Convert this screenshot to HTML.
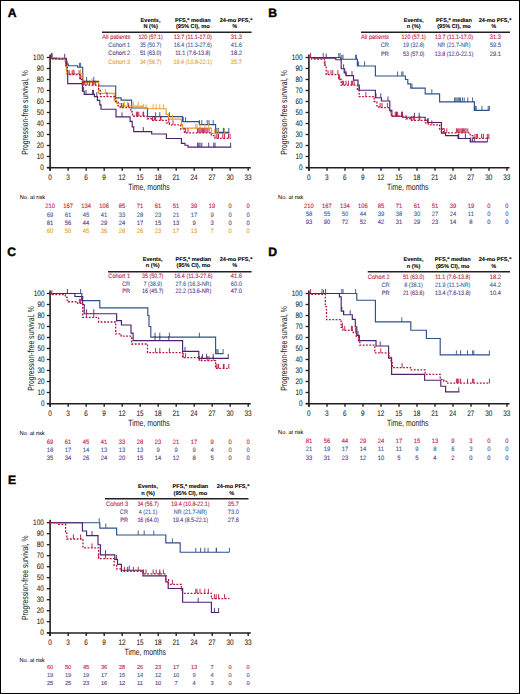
<!DOCTYPE html>
<html><head><meta charset="utf-8"><style>
html,body{margin:0;padding:0;background:#fff;}
body{width:520px;height:694px;overflow:hidden;}
svg{display:block;font-family:"Liberation Sans",sans-serif;text-rendering:geometricPrecision;}
</style></head><body>
<svg width="520" height="694" viewBox="0 0 520 694">
<rect x="0" y="0" width="520" height="694" fill="#fff"/>
<text x="7.70" y="17.15" font-size="12.2" fill="#000" stroke="#000" stroke-width="0.4" font-weight="bold" textLength="8.81" lengthAdjust="spacingAndGlyphs">A</text>
<text x="140.64" y="21.75" font-size="5.6" fill="#000" stroke="#000" stroke-width="0.08" font-weight="bold" textLength="19.92" lengthAdjust="spacingAndGlyphs">Events,</text>
<text x="143.45" y="28.25" font-size="5.6" fill="#000" stroke="#000" stroke-width="0.08" font-weight="bold" textLength="14.31" lengthAdjust="spacingAndGlyphs">N (%)</text>
<text x="174.91" y="21.75" font-size="5.6" fill="#000" stroke="#000" stroke-width="0.08" font-weight="bold" textLength="35.79" lengthAdjust="spacingAndGlyphs">PFS,* median</text>
<text x="176.00" y="28.25" font-size="5.6" fill="#000" stroke="#000" stroke-width="0.08" font-weight="bold" textLength="33.60" lengthAdjust="spacingAndGlyphs">(95% CI), mo</text>
<text x="219.66" y="21.75" font-size="5.6" fill="#000" stroke="#000" stroke-width="0.08" font-weight="bold" textLength="32.68" lengthAdjust="spacingAndGlyphs">24-mo PFS,*</text>
<text x="232.21" y="28.25" font-size="5.6" fill="#000" stroke="#000" stroke-width="0.08" font-weight="bold" textLength="4.98" lengthAdjust="spacingAndGlyphs">%</text>
<line x1="102.00" y1="32.30" x2="251.60" y2="32.30" stroke="#231f20" stroke-width="1.4"/>
<text x="102.26" y="38.90" font-size="6.3" fill="#c41f4b" stroke="#c41f4b" stroke-width="0.12" textLength="28.04" lengthAdjust="spacingAndGlyphs">All patients</text>
<text x="138.40" y="38.90" font-size="6.3" fill="#c41f4b" stroke="#c41f4b" stroke-width="0.12" textLength="24.41" lengthAdjust="spacingAndGlyphs">120 (57.1)</text>
<text x="173.73" y="38.90" font-size="6.3" fill="#c41f4b" stroke="#c41f4b" stroke-width="0.12" textLength="38.15" lengthAdjust="spacingAndGlyphs">13.7 (11.1-17.0)</text>
<text x="230.82" y="38.90" font-size="6.3" fill="#c41f4b" stroke="#c41f4b" stroke-width="0.12" textLength="11.16" lengthAdjust="spacingAndGlyphs">31.3</text>
<text x="108.31" y="47.10" font-size="6.3" fill="#44689f" stroke="#44689f" stroke-width="0.12" textLength="21.99" lengthAdjust="spacingAndGlyphs">Cohort 1</text>
<text x="139.88" y="47.10" font-size="6.3" fill="#44689f" stroke="#44689f" stroke-width="0.12" textLength="21.43" lengthAdjust="spacingAndGlyphs">35 (50.7)</text>
<text x="173.73" y="47.10" font-size="6.3" fill="#44689f" stroke="#44689f" stroke-width="0.12" textLength="38.15" lengthAdjust="spacingAndGlyphs">16.4 (11.3-27.6)</text>
<text x="230.82" y="47.10" font-size="6.3" fill="#44689f" stroke="#44689f" stroke-width="0.12" textLength="11.16" lengthAdjust="spacingAndGlyphs">41.6</text>
<text x="108.31" y="55.30" font-size="6.3" fill="#63408a" stroke="#63408a" stroke-width="0.12" textLength="21.99" lengthAdjust="spacingAndGlyphs">Cohort 2</text>
<text x="139.88" y="55.30" font-size="6.3" fill="#63408a" stroke="#63408a" stroke-width="0.12" textLength="21.43" lengthAdjust="spacingAndGlyphs">51 (63.0)</text>
<text x="175.23" y="55.30" font-size="6.3" fill="#63408a" stroke="#63408a" stroke-width="0.12" textLength="35.13" lengthAdjust="spacingAndGlyphs">11.1 (7.6-13.8)</text>
<text x="230.82" y="55.30" font-size="6.3" fill="#63408a" stroke="#63408a" stroke-width="0.12" textLength="11.16" lengthAdjust="spacingAndGlyphs">18.2</text>
<text x="108.31" y="63.50" font-size="6.3" fill="#e9a23a" stroke="#e9a23a" stroke-width="0.12" textLength="21.99" lengthAdjust="spacingAndGlyphs">Cohort 3</text>
<text x="139.88" y="63.50" font-size="6.3" fill="#e9a23a" stroke="#e9a23a" stroke-width="0.12" textLength="21.43" lengthAdjust="spacingAndGlyphs">34 (56.7)</text>
<text x="173.53" y="63.50" font-size="6.3" fill="#e9a23a" stroke="#e9a23a" stroke-width="0.12" textLength="38.55" lengthAdjust="spacingAndGlyphs">19.4 (10.8-22.1)</text>
<text x="230.82" y="63.50" font-size="6.3" fill="#e9a23a" stroke="#e9a23a" stroke-width="0.12" textLength="11.16" lengthAdjust="spacingAndGlyphs">35.7</text>
<line x1="50.10" y1="170.70" x2="50.10" y2="54.50" stroke="#231f20" stroke-width="1.6"/>
<line x1="47.00" y1="167.75" x2="250.80" y2="167.75" stroke="#231f20" stroke-width="1.6"/>
<line x1="46.80" y1="167.50" x2="50.00" y2="167.50" stroke="#231f20" stroke-width="1.3"/>
<text x="40.24" y="169.75" font-size="8.0" fill="#231f20" stroke="#231f20" stroke-width="0.08" textLength="3.56" lengthAdjust="spacingAndGlyphs">0</text>
<line x1="46.80" y1="156.50" x2="50.00" y2="156.50" stroke="#231f20" stroke-width="1.3"/>
<text x="36.68" y="158.75" font-size="8.0" fill="#231f20" stroke="#231f20" stroke-width="0.08" textLength="7.12" lengthAdjust="spacingAndGlyphs">10</text>
<line x1="46.80" y1="145.50" x2="50.00" y2="145.50" stroke="#231f20" stroke-width="1.3"/>
<text x="36.68" y="147.75" font-size="8.0" fill="#231f20" stroke="#231f20" stroke-width="0.08" textLength="7.12" lengthAdjust="spacingAndGlyphs">20</text>
<line x1="46.80" y1="134.50" x2="50.00" y2="134.50" stroke="#231f20" stroke-width="1.3"/>
<text x="36.68" y="136.75" font-size="8.0" fill="#231f20" stroke="#231f20" stroke-width="0.08" textLength="7.12" lengthAdjust="spacingAndGlyphs">30</text>
<line x1="46.80" y1="123.50" x2="50.00" y2="123.50" stroke="#231f20" stroke-width="1.3"/>
<text x="36.68" y="125.75" font-size="8.0" fill="#231f20" stroke="#231f20" stroke-width="0.08" textLength="7.12" lengthAdjust="spacingAndGlyphs">40</text>
<line x1="46.80" y1="112.50" x2="50.00" y2="112.50" stroke="#231f20" stroke-width="1.3"/>
<text x="36.68" y="114.75" font-size="8.0" fill="#231f20" stroke="#231f20" stroke-width="0.08" textLength="7.12" lengthAdjust="spacingAndGlyphs">50</text>
<line x1="46.80" y1="101.50" x2="50.00" y2="101.50" stroke="#231f20" stroke-width="1.3"/>
<text x="36.68" y="103.75" font-size="8.0" fill="#231f20" stroke="#231f20" stroke-width="0.08" textLength="7.12" lengthAdjust="spacingAndGlyphs">60</text>
<line x1="46.80" y1="90.50" x2="50.00" y2="90.50" stroke="#231f20" stroke-width="1.3"/>
<text x="36.68" y="92.75" font-size="8.0" fill="#231f20" stroke="#231f20" stroke-width="0.08" textLength="7.12" lengthAdjust="spacingAndGlyphs">70</text>
<line x1="46.80" y1="79.50" x2="50.00" y2="79.50" stroke="#231f20" stroke-width="1.3"/>
<text x="36.68" y="81.75" font-size="8.0" fill="#231f20" stroke="#231f20" stroke-width="0.08" textLength="7.12" lengthAdjust="spacingAndGlyphs">80</text>
<line x1="46.80" y1="68.50" x2="50.00" y2="68.50" stroke="#231f20" stroke-width="1.3"/>
<text x="36.68" y="70.75" font-size="8.0" fill="#231f20" stroke="#231f20" stroke-width="0.08" textLength="7.12" lengthAdjust="spacingAndGlyphs">90</text>
<line x1="46.80" y1="57.50" x2="50.00" y2="57.50" stroke="#231f20" stroke-width="1.3"/>
<text x="33.12" y="59.75" font-size="8.0" fill="#231f20" stroke="#231f20" stroke-width="0.08" textLength="10.68" lengthAdjust="spacingAndGlyphs">100</text>
<line x1="50.20" y1="167.50" x2="50.20" y2="170.80" stroke="#231f20" stroke-width="1.4"/>
<text x="48.22" y="179.70" font-size="8.0" fill="#231f20" stroke="#231f20" stroke-width="0.08" textLength="3.56" lengthAdjust="spacingAndGlyphs">0</text>
<line x1="68.20" y1="167.50" x2="68.20" y2="170.80" stroke="#231f20" stroke-width="1.4"/>
<text x="66.22" y="179.70" font-size="8.0" fill="#231f20" stroke="#231f20" stroke-width="0.08" textLength="3.56" lengthAdjust="spacingAndGlyphs">3</text>
<line x1="86.20" y1="167.50" x2="86.20" y2="170.80" stroke="#231f20" stroke-width="1.4"/>
<text x="84.22" y="179.70" font-size="8.0" fill="#231f20" stroke="#231f20" stroke-width="0.08" textLength="3.56" lengthAdjust="spacingAndGlyphs">6</text>
<line x1="104.20" y1="167.50" x2="104.20" y2="170.80" stroke="#231f20" stroke-width="1.4"/>
<text x="102.22" y="179.70" font-size="8.0" fill="#231f20" stroke="#231f20" stroke-width="0.08" textLength="3.56" lengthAdjust="spacingAndGlyphs">9</text>
<line x1="122.20" y1="167.50" x2="122.20" y2="170.80" stroke="#231f20" stroke-width="1.4"/>
<text x="118.44" y="179.70" font-size="8.0" fill="#231f20" stroke="#231f20" stroke-width="0.08" textLength="7.12" lengthAdjust="spacingAndGlyphs">12</text>
<line x1="140.20" y1="167.50" x2="140.20" y2="170.80" stroke="#231f20" stroke-width="1.4"/>
<text x="136.44" y="179.70" font-size="8.0" fill="#231f20" stroke="#231f20" stroke-width="0.08" textLength="7.12" lengthAdjust="spacingAndGlyphs">15</text>
<line x1="158.20" y1="167.50" x2="158.20" y2="170.80" stroke="#231f20" stroke-width="1.4"/>
<text x="154.44" y="179.70" font-size="8.0" fill="#231f20" stroke="#231f20" stroke-width="0.08" textLength="7.12" lengthAdjust="spacingAndGlyphs">18</text>
<line x1="176.20" y1="167.50" x2="176.20" y2="170.80" stroke="#231f20" stroke-width="1.4"/>
<text x="172.44" y="179.70" font-size="8.0" fill="#231f20" stroke="#231f20" stroke-width="0.08" textLength="7.12" lengthAdjust="spacingAndGlyphs">21</text>
<line x1="194.20" y1="167.50" x2="194.20" y2="170.80" stroke="#231f20" stroke-width="1.4"/>
<text x="190.44" y="179.70" font-size="8.0" fill="#231f20" stroke="#231f20" stroke-width="0.08" textLength="7.12" lengthAdjust="spacingAndGlyphs">24</text>
<line x1="212.20" y1="167.50" x2="212.20" y2="170.80" stroke="#231f20" stroke-width="1.4"/>
<text x="208.44" y="179.70" font-size="8.0" fill="#231f20" stroke="#231f20" stroke-width="0.08" textLength="7.12" lengthAdjust="spacingAndGlyphs">27</text>
<line x1="230.20" y1="167.50" x2="230.20" y2="170.80" stroke="#231f20" stroke-width="1.4"/>
<text x="226.44" y="179.70" font-size="8.0" fill="#231f20" stroke="#231f20" stroke-width="0.08" textLength="7.12" lengthAdjust="spacingAndGlyphs">30</text>
<line x1="248.20" y1="167.50" x2="248.20" y2="170.80" stroke="#231f20" stroke-width="1.4"/>
<text x="244.44" y="179.70" font-size="8.0" fill="#231f20" stroke="#231f20" stroke-width="0.08" textLength="7.12" lengthAdjust="spacingAndGlyphs">33</text>
<text x="128.25" y="189.70" font-size="9.0" fill="#231f20" stroke="#231f20" stroke-width="0.04" textLength="41.50" lengthAdjust="spacingAndGlyphs">Time, months</text>
<g transform="translate(28.20,112.50) rotate(-90)">
<text x="-42.25" y="0.00" font-size="9.0" fill="#231f20" stroke="#231f20" stroke-width="0.04" textLength="84.50" lengthAdjust="spacingAndGlyphs">Progression-free survival, %</text>
</g>
<text x="19.75" y="198.90" font-size="5.7" fill="#000" stroke="#000" stroke-width="0.03" textLength="25.30" lengthAdjust="spacingAndGlyphs">No. at risk</text>
<text x="45.21" y="207.50" font-size="6.3" fill="#c41f4b" stroke="#c41f4b" stroke-width="0.12" textLength="9.77" lengthAdjust="spacingAndGlyphs">210</text>
<text x="63.21" y="207.50" font-size="6.3" fill="#c41f4b" stroke="#c41f4b" stroke-width="0.12" textLength="9.77" lengthAdjust="spacingAndGlyphs">167</text>
<text x="81.21" y="207.50" font-size="6.3" fill="#c41f4b" stroke="#c41f4b" stroke-width="0.12" textLength="9.77" lengthAdjust="spacingAndGlyphs">134</text>
<text x="99.21" y="207.50" font-size="6.3" fill="#c41f4b" stroke="#c41f4b" stroke-width="0.12" textLength="9.77" lengthAdjust="spacingAndGlyphs">106</text>
<text x="118.84" y="207.50" font-size="6.3" fill="#c41f4b" stroke="#c41f4b" stroke-width="0.12" textLength="6.52" lengthAdjust="spacingAndGlyphs">85</text>
<text x="136.84" y="207.50" font-size="6.3" fill="#c41f4b" stroke="#c41f4b" stroke-width="0.12" textLength="6.52" lengthAdjust="spacingAndGlyphs">71</text>
<text x="154.84" y="207.50" font-size="6.3" fill="#c41f4b" stroke="#c41f4b" stroke-width="0.12" textLength="6.52" lengthAdjust="spacingAndGlyphs">61</text>
<text x="172.84" y="207.50" font-size="6.3" fill="#c41f4b" stroke="#c41f4b" stroke-width="0.12" textLength="6.52" lengthAdjust="spacingAndGlyphs">51</text>
<text x="190.84" y="207.50" font-size="6.3" fill="#c41f4b" stroke="#c41f4b" stroke-width="0.12" textLength="6.52" lengthAdjust="spacingAndGlyphs">39</text>
<text x="208.84" y="207.50" font-size="6.3" fill="#c41f4b" stroke="#c41f4b" stroke-width="0.12" textLength="6.52" lengthAdjust="spacingAndGlyphs">19</text>
<text x="228.47" y="207.50" font-size="6.3" fill="#c41f4b" stroke="#c41f4b" stroke-width="0.12" textLength="3.26" lengthAdjust="spacingAndGlyphs">0</text>
<text x="246.47" y="207.50" font-size="6.3" fill="#c41f4b" stroke="#c41f4b" stroke-width="0.12" textLength="3.26" lengthAdjust="spacingAndGlyphs">0</text>
<text x="46.84" y="216.60" font-size="6.3" fill="#44689f" stroke="#44689f" stroke-width="0.12" textLength="6.52" lengthAdjust="spacingAndGlyphs">69</text>
<text x="64.84" y="216.60" font-size="6.3" fill="#44689f" stroke="#44689f" stroke-width="0.12" textLength="6.52" lengthAdjust="spacingAndGlyphs">61</text>
<text x="82.84" y="216.60" font-size="6.3" fill="#44689f" stroke="#44689f" stroke-width="0.12" textLength="6.52" lengthAdjust="spacingAndGlyphs">45</text>
<text x="100.84" y="216.60" font-size="6.3" fill="#44689f" stroke="#44689f" stroke-width="0.12" textLength="6.52" lengthAdjust="spacingAndGlyphs">41</text>
<text x="118.84" y="216.60" font-size="6.3" fill="#44689f" stroke="#44689f" stroke-width="0.12" textLength="6.52" lengthAdjust="spacingAndGlyphs">33</text>
<text x="136.84" y="216.60" font-size="6.3" fill="#44689f" stroke="#44689f" stroke-width="0.12" textLength="6.52" lengthAdjust="spacingAndGlyphs">28</text>
<text x="154.84" y="216.60" font-size="6.3" fill="#44689f" stroke="#44689f" stroke-width="0.12" textLength="6.52" lengthAdjust="spacingAndGlyphs">23</text>
<text x="172.84" y="216.60" font-size="6.3" fill="#44689f" stroke="#44689f" stroke-width="0.12" textLength="6.52" lengthAdjust="spacingAndGlyphs">21</text>
<text x="190.84" y="216.60" font-size="6.3" fill="#44689f" stroke="#44689f" stroke-width="0.12" textLength="6.52" lengthAdjust="spacingAndGlyphs">17</text>
<text x="210.47" y="216.60" font-size="6.3" fill="#44689f" stroke="#44689f" stroke-width="0.12" textLength="3.26" lengthAdjust="spacingAndGlyphs">9</text>
<text x="228.47" y="216.60" font-size="6.3" fill="#44689f" stroke="#44689f" stroke-width="0.12" textLength="3.26" lengthAdjust="spacingAndGlyphs">0</text>
<text x="246.47" y="216.60" font-size="6.3" fill="#44689f" stroke="#44689f" stroke-width="0.12" textLength="3.26" lengthAdjust="spacingAndGlyphs">0</text>
<text x="46.84" y="224.50" font-size="6.3" fill="#63408a" stroke="#63408a" stroke-width="0.12" textLength="6.52" lengthAdjust="spacingAndGlyphs">81</text>
<text x="64.84" y="224.50" font-size="6.3" fill="#63408a" stroke="#63408a" stroke-width="0.12" textLength="6.52" lengthAdjust="spacingAndGlyphs">56</text>
<text x="82.84" y="224.50" font-size="6.3" fill="#63408a" stroke="#63408a" stroke-width="0.12" textLength="6.52" lengthAdjust="spacingAndGlyphs">44</text>
<text x="100.84" y="224.50" font-size="6.3" fill="#63408a" stroke="#63408a" stroke-width="0.12" textLength="6.52" lengthAdjust="spacingAndGlyphs">29</text>
<text x="118.84" y="224.50" font-size="6.3" fill="#63408a" stroke="#63408a" stroke-width="0.12" textLength="6.52" lengthAdjust="spacingAndGlyphs">24</text>
<text x="136.84" y="224.50" font-size="6.3" fill="#63408a" stroke="#63408a" stroke-width="0.12" textLength="6.52" lengthAdjust="spacingAndGlyphs">17</text>
<text x="154.84" y="224.50" font-size="6.3" fill="#63408a" stroke="#63408a" stroke-width="0.12" textLength="6.52" lengthAdjust="spacingAndGlyphs">15</text>
<text x="172.84" y="224.50" font-size="6.3" fill="#63408a" stroke="#63408a" stroke-width="0.12" textLength="6.52" lengthAdjust="spacingAndGlyphs">13</text>
<text x="192.47" y="224.50" font-size="6.3" fill="#63408a" stroke="#63408a" stroke-width="0.12" textLength="3.26" lengthAdjust="spacingAndGlyphs">9</text>
<text x="210.47" y="224.50" font-size="6.3" fill="#63408a" stroke="#63408a" stroke-width="0.12" textLength="3.26" lengthAdjust="spacingAndGlyphs">3</text>
<text x="228.47" y="224.50" font-size="6.3" fill="#63408a" stroke="#63408a" stroke-width="0.12" textLength="3.26" lengthAdjust="spacingAndGlyphs">0</text>
<text x="246.47" y="224.50" font-size="6.3" fill="#63408a" stroke="#63408a" stroke-width="0.12" textLength="3.26" lengthAdjust="spacingAndGlyphs">0</text>
<text x="46.84" y="232.90" font-size="6.3" fill="#e9a23a" stroke="#e9a23a" stroke-width="0.12" textLength="6.52" lengthAdjust="spacingAndGlyphs">60</text>
<text x="64.84" y="232.90" font-size="6.3" fill="#e9a23a" stroke="#e9a23a" stroke-width="0.12" textLength="6.52" lengthAdjust="spacingAndGlyphs">50</text>
<text x="82.84" y="232.90" font-size="6.3" fill="#e9a23a" stroke="#e9a23a" stroke-width="0.12" textLength="6.52" lengthAdjust="spacingAndGlyphs">45</text>
<text x="100.84" y="232.90" font-size="6.3" fill="#e9a23a" stroke="#e9a23a" stroke-width="0.12" textLength="6.52" lengthAdjust="spacingAndGlyphs">36</text>
<text x="118.84" y="232.90" font-size="6.3" fill="#e9a23a" stroke="#e9a23a" stroke-width="0.12" textLength="6.52" lengthAdjust="spacingAndGlyphs">28</text>
<text x="136.84" y="232.90" font-size="6.3" fill="#e9a23a" stroke="#e9a23a" stroke-width="0.12" textLength="6.52" lengthAdjust="spacingAndGlyphs">26</text>
<text x="154.84" y="232.90" font-size="6.3" fill="#e9a23a" stroke="#e9a23a" stroke-width="0.12" textLength="6.52" lengthAdjust="spacingAndGlyphs">23</text>
<text x="172.84" y="232.90" font-size="6.3" fill="#e9a23a" stroke="#e9a23a" stroke-width="0.12" textLength="6.52" lengthAdjust="spacingAndGlyphs">17</text>
<text x="190.84" y="232.90" font-size="6.3" fill="#e9a23a" stroke="#e9a23a" stroke-width="0.12" textLength="6.52" lengthAdjust="spacingAndGlyphs">13</text>
<text x="210.47" y="232.90" font-size="6.3" fill="#e9a23a" stroke="#e9a23a" stroke-width="0.12" textLength="3.26" lengthAdjust="spacingAndGlyphs">7</text>
<text x="228.47" y="232.90" font-size="6.3" fill="#e9a23a" stroke="#e9a23a" stroke-width="0.12" textLength="3.26" lengthAdjust="spacingAndGlyphs">0</text>
<text x="246.47" y="232.90" font-size="6.3" fill="#e9a23a" stroke="#e9a23a" stroke-width="0.12" textLength="3.26" lengthAdjust="spacingAndGlyphs">0</text>
<path d="M50.00,57.50H53.00V58.27H66.50V70.70H67.70V83.57H82.40V91.27H84.20V94.35H94.40V96.55H97.40V100.40H99.80V104.80H101.00V109.20H116.00V116.90H130.10V121.30H132.20V126.80H133.70V131.64H151.70V133.95H166.40V138.46H181.40V143.30H185.00V145.28H188.00V147.15H231.20" fill="none" stroke="#4c2270" stroke-width="1.15"/>
<path d="M51.80,57.50v-4.5M64.70,58.27v-4.5M83.60,91.27v-4.5M86.00,94.35v-4.5M92.60,94.35v-4.5M93.50,94.35v-4.5M96.80,96.55v-4.5M122.00,116.90v-4.5M143.30,131.64v-4.5M197.60,147.15v-4.5M198.80,147.15v-4.5M200.00,147.15v-4.5M201.80,147.15v-4.5M208.70,147.15v-4.5M213.80,147.15v-4.5M215.00,147.15v-4.5M230.60,147.15v-4.5" fill="none" stroke="#4c2270" stroke-width="0.9"/>
<path d="M50.00,57.50H51.80V58.71H65.30V61.35H67.10V64.10H68.30V65.75H77.60V67.29H82.70V81.37H98.60V85.99H115.70V97.87H121.10V100.18H131.60V107.99H147.50V116.68H182.60V121.63H199.40V124.60H215.60V132.41H229.40" fill="none" stroke="#2f5189" stroke-width="1.15"/>
<path d="M51.80,58.71v-4.5M79.40,67.29v-4.5M80.60,67.29v-4.5M86.60,81.37v-4.5M93.80,81.37v-4.5M155.60,116.68v-4.5M159.80,116.68v-4.5M169.40,116.68v-4.5M183.20,121.63v-4.5M185.60,121.63v-4.5M199.40,124.60v-4.5M201.80,124.60v-4.5M207.20,124.60v-4.5M209.00,124.60v-4.5M213.20,124.60v-4.5M216.20,132.41v-4.5M218.00,132.41v-4.5M218.60,132.41v-4.5M223.40,132.41v-4.5M224.00,132.41v-4.5M228.80,132.41v-4.5" fill="none" stroke="#2f5189" stroke-width="0.9"/>
<path d="M50.00,57.50H57.80V59.26H65.60V66.30H66.80V73.78H83.00V82.69H98.60V93.36H114.20V100.40H116.60V103.70H121.40V106.12H143.00V108.76H166.10V114.37H168.50V119.10H181.40V124.60H182.60V128.12H211.40V133.51H229.40" fill="none" stroke="#eb9e27" stroke-width="1.15"/>
<path d="M73.40,73.78v-4.5M80.60,73.78v-4.5M92.00,82.69v-4.5M98.60,93.36v-4.5M105.50,93.36v-4.5M124.40,106.12v-4.5M127.40,106.12v-4.5M133.40,106.12v-4.5M138.20,106.12v-4.5M143.60,108.76v-4.5M146.00,108.76v-4.5M153.20,108.76v-4.5M156.20,108.76v-4.5M159.80,108.76v-4.5M163.40,108.76v-4.5M172.40,119.10v-4.5M195.80,128.12v-4.5M197.00,128.12v-4.5M200.00,128.12v-4.5M204.80,128.12v-4.5M208.40,128.12v-4.5M214.40,133.51v-4.5M216.20,133.51v-4.5M218.60,133.51v-4.5M224.60,133.51v-4.5" fill="none" stroke="#eb9e27" stroke-width="0.9"/>
<path d="M50.00,57.50H53.00V59.04H65.60V65.20H67.40V74.66H80.00V79.50H82.40V85.22H98.60V90.50H100.40V96.55H115.40V101.50H118.10V105.90H120.20V107.55H130.70V111.95H132.50V116.24H147.20V118.77H151.40V120.42H166.40V122.95H169.40V124.82H180.80V129.00H184.40V132.85H211.40V135.60H215.00V138.35H230.60" fill="none" stroke="#b8113c" stroke-width="1.3" stroke-dasharray="1.8 1.5"/>
<path d="M51.80,57.50v-4.5M66.20,65.20v-4.5M69.20,74.66v-4.5M72.20,74.66v-4.5M74.00,74.66v-4.5M79.10,74.66v-4.5M80.00,79.50v-4.5M80.90,79.50v-4.5M83.60,85.22v-4.5M84.80,85.22v-4.5M87.20,85.22v-4.5M89.60,85.22v-4.5M92.60,85.22v-4.5M93.80,85.22v-4.5M95.30,85.22v-4.5M107.00,96.55v-4.5M121.40,107.55v-4.5M123.20,107.55v-4.5M128.60,107.55v-4.5M136.40,116.24v-4.5M137.60,116.24v-4.5M138.80,116.24v-4.5M143.00,116.24v-4.5M143.60,116.24v-4.5M152.60,120.42v-4.5M154.40,120.42v-4.5M155.60,120.42v-4.5M160.40,120.42v-4.5M161.00,120.42v-4.5M168.80,122.95v-4.5M173.00,124.82v-4.5M185.60,132.85v-4.5M188.00,132.85v-4.5M197.60,132.85v-4.5M198.80,132.85v-4.5M200.00,132.85v-4.5M201.20,132.85v-4.5M202.40,132.85v-4.5M203.60,132.85v-4.5M204.80,132.85v-4.5M206.00,132.85v-4.5M207.20,132.85v-4.5M209.00,132.85v-4.5M216.20,138.35v-4.5M218.00,138.35v-4.5M218.60,138.35v-4.5M222.80,138.35v-4.5M224.60,138.35v-4.5M228.50,138.35v-4.5M230.00,138.35v-4.5" fill="none" stroke="#b8113c" stroke-width="0.9"/>
<text x="268.20" y="17.15" font-size="12.2" fill="#000" stroke="#000" stroke-width="0.4" font-weight="bold" textLength="8.81" lengthAdjust="spacingAndGlyphs">B</text>
<text x="403.74" y="21.75" font-size="5.6" fill="#000" stroke="#000" stroke-width="0.08" font-weight="bold" textLength="19.92" lengthAdjust="spacingAndGlyphs">Events,</text>
<text x="406.86" y="28.25" font-size="5.6" fill="#000" stroke="#000" stroke-width="0.08" font-weight="bold" textLength="13.69" lengthAdjust="spacingAndGlyphs">n (%)</text>
<text x="436.11" y="21.75" font-size="5.6" fill="#000" stroke="#000" stroke-width="0.08" font-weight="bold" textLength="35.79" lengthAdjust="spacingAndGlyphs">PFS,* median</text>
<text x="437.20" y="28.25" font-size="5.6" fill="#000" stroke="#000" stroke-width="0.08" font-weight="bold" textLength="33.60" lengthAdjust="spacingAndGlyphs">(95% CI), mo</text>
<text x="478.66" y="21.75" font-size="5.6" fill="#000" stroke="#000" stroke-width="0.08" font-weight="bold" textLength="32.68" lengthAdjust="spacingAndGlyphs">24-mo PFS,*</text>
<text x="491.21" y="28.25" font-size="5.6" fill="#000" stroke="#000" stroke-width="0.08" font-weight="bold" textLength="4.98" lengthAdjust="spacingAndGlyphs">%</text>
<line x1="361.00" y1="32.30" x2="510.00" y2="32.30" stroke="#231f20" stroke-width="1.4"/>
<text x="360.96" y="38.90" font-size="6.3" fill="#c41f4b" stroke="#c41f4b" stroke-width="0.12" textLength="28.04" lengthAdjust="spacingAndGlyphs">All patients</text>
<text x="401.50" y="38.90" font-size="6.3" fill="#c41f4b" stroke="#c41f4b" stroke-width="0.12" textLength="24.41" lengthAdjust="spacingAndGlyphs">120 (57.1)</text>
<text x="434.93" y="38.90" font-size="6.3" fill="#c41f4b" stroke="#c41f4b" stroke-width="0.12" textLength="38.15" lengthAdjust="spacingAndGlyphs">13.7 (11.1-17.0)</text>
<text x="489.82" y="38.90" font-size="6.3" fill="#c41f4b" stroke="#c41f4b" stroke-width="0.12" textLength="11.16" lengthAdjust="spacingAndGlyphs">31.3</text>
<text x="380.72" y="47.30" font-size="6.3" fill="#44689f" stroke="#44689f" stroke-width="0.12" textLength="8.28" lengthAdjust="spacingAndGlyphs">CR</text>
<text x="402.98" y="47.30" font-size="6.3" fill="#44689f" stroke="#44689f" stroke-width="0.12" textLength="21.43" lengthAdjust="spacingAndGlyphs">19 (32.8)</text>
<text x="437.44" y="47.30" font-size="6.3" fill="#44689f" stroke="#44689f" stroke-width="0.12" textLength="33.11" lengthAdjust="spacingAndGlyphs">NR (21.7-NR)</text>
<text x="489.82" y="47.30" font-size="6.3" fill="#44689f" stroke="#44689f" stroke-width="0.12" textLength="11.16" lengthAdjust="spacingAndGlyphs">59.5</text>
<text x="381.04" y="55.60" font-size="6.3" fill="#63408a" stroke="#63408a" stroke-width="0.12" textLength="7.96" lengthAdjust="spacingAndGlyphs">PR</text>
<text x="402.98" y="55.60" font-size="6.3" fill="#63408a" stroke="#63408a" stroke-width="0.12" textLength="21.43" lengthAdjust="spacingAndGlyphs">53 (57.0)</text>
<text x="434.73" y="55.60" font-size="6.3" fill="#63408a" stroke="#63408a" stroke-width="0.12" textLength="38.55" lengthAdjust="spacingAndGlyphs">13.8 (12.0-22.1)</text>
<text x="489.82" y="55.60" font-size="6.3" fill="#63408a" stroke="#63408a" stroke-width="0.12" textLength="11.16" lengthAdjust="spacingAndGlyphs">29.1</text>
<line x1="308.90" y1="170.70" x2="308.90" y2="54.50" stroke="#231f20" stroke-width="1.6"/>
<line x1="305.80" y1="167.75" x2="509.60" y2="167.75" stroke="#231f20" stroke-width="1.6"/>
<line x1="305.60" y1="167.50" x2="308.80" y2="167.50" stroke="#231f20" stroke-width="1.3"/>
<text x="298.94" y="169.75" font-size="8.0" fill="#231f20" stroke="#231f20" stroke-width="0.08" textLength="3.56" lengthAdjust="spacingAndGlyphs">0</text>
<line x1="305.60" y1="156.50" x2="308.80" y2="156.50" stroke="#231f20" stroke-width="1.3"/>
<text x="295.38" y="158.75" font-size="8.0" fill="#231f20" stroke="#231f20" stroke-width="0.08" textLength="7.12" lengthAdjust="spacingAndGlyphs">10</text>
<line x1="305.60" y1="145.50" x2="308.80" y2="145.50" stroke="#231f20" stroke-width="1.3"/>
<text x="295.38" y="147.75" font-size="8.0" fill="#231f20" stroke="#231f20" stroke-width="0.08" textLength="7.12" lengthAdjust="spacingAndGlyphs">20</text>
<line x1="305.60" y1="134.50" x2="308.80" y2="134.50" stroke="#231f20" stroke-width="1.3"/>
<text x="295.38" y="136.75" font-size="8.0" fill="#231f20" stroke="#231f20" stroke-width="0.08" textLength="7.12" lengthAdjust="spacingAndGlyphs">30</text>
<line x1="305.60" y1="123.50" x2="308.80" y2="123.50" stroke="#231f20" stroke-width="1.3"/>
<text x="295.38" y="125.75" font-size="8.0" fill="#231f20" stroke="#231f20" stroke-width="0.08" textLength="7.12" lengthAdjust="spacingAndGlyphs">40</text>
<line x1="305.60" y1="112.50" x2="308.80" y2="112.50" stroke="#231f20" stroke-width="1.3"/>
<text x="295.38" y="114.75" font-size="8.0" fill="#231f20" stroke="#231f20" stroke-width="0.08" textLength="7.12" lengthAdjust="spacingAndGlyphs">50</text>
<line x1="305.60" y1="101.50" x2="308.80" y2="101.50" stroke="#231f20" stroke-width="1.3"/>
<text x="295.38" y="103.75" font-size="8.0" fill="#231f20" stroke="#231f20" stroke-width="0.08" textLength="7.12" lengthAdjust="spacingAndGlyphs">60</text>
<line x1="305.60" y1="90.50" x2="308.80" y2="90.50" stroke="#231f20" stroke-width="1.3"/>
<text x="295.38" y="92.75" font-size="8.0" fill="#231f20" stroke="#231f20" stroke-width="0.08" textLength="7.12" lengthAdjust="spacingAndGlyphs">70</text>
<line x1="305.60" y1="79.50" x2="308.80" y2="79.50" stroke="#231f20" stroke-width="1.3"/>
<text x="295.38" y="81.75" font-size="8.0" fill="#231f20" stroke="#231f20" stroke-width="0.08" textLength="7.12" lengthAdjust="spacingAndGlyphs">80</text>
<line x1="305.60" y1="68.50" x2="308.80" y2="68.50" stroke="#231f20" stroke-width="1.3"/>
<text x="295.38" y="70.75" font-size="8.0" fill="#231f20" stroke="#231f20" stroke-width="0.08" textLength="7.12" lengthAdjust="spacingAndGlyphs">90</text>
<line x1="305.60" y1="57.50" x2="308.80" y2="57.50" stroke="#231f20" stroke-width="1.3"/>
<text x="291.82" y="59.75" font-size="8.0" fill="#231f20" stroke="#231f20" stroke-width="0.08" textLength="10.68" lengthAdjust="spacingAndGlyphs">100</text>
<line x1="309.00" y1="167.50" x2="309.00" y2="170.80" stroke="#231f20" stroke-width="1.4"/>
<text x="307.02" y="179.70" font-size="8.0" fill="#231f20" stroke="#231f20" stroke-width="0.08" textLength="3.56" lengthAdjust="spacingAndGlyphs">0</text>
<line x1="327.00" y1="167.50" x2="327.00" y2="170.80" stroke="#231f20" stroke-width="1.4"/>
<text x="325.02" y="179.70" font-size="8.0" fill="#231f20" stroke="#231f20" stroke-width="0.08" textLength="3.56" lengthAdjust="spacingAndGlyphs">3</text>
<line x1="345.00" y1="167.50" x2="345.00" y2="170.80" stroke="#231f20" stroke-width="1.4"/>
<text x="343.02" y="179.70" font-size="8.0" fill="#231f20" stroke="#231f20" stroke-width="0.08" textLength="3.56" lengthAdjust="spacingAndGlyphs">6</text>
<line x1="363.00" y1="167.50" x2="363.00" y2="170.80" stroke="#231f20" stroke-width="1.4"/>
<text x="361.02" y="179.70" font-size="8.0" fill="#231f20" stroke="#231f20" stroke-width="0.08" textLength="3.56" lengthAdjust="spacingAndGlyphs">9</text>
<line x1="381.00" y1="167.50" x2="381.00" y2="170.80" stroke="#231f20" stroke-width="1.4"/>
<text x="377.24" y="179.70" font-size="8.0" fill="#231f20" stroke="#231f20" stroke-width="0.08" textLength="7.12" lengthAdjust="spacingAndGlyphs">12</text>
<line x1="399.00" y1="167.50" x2="399.00" y2="170.80" stroke="#231f20" stroke-width="1.4"/>
<text x="395.24" y="179.70" font-size="8.0" fill="#231f20" stroke="#231f20" stroke-width="0.08" textLength="7.12" lengthAdjust="spacingAndGlyphs">15</text>
<line x1="417.00" y1="167.50" x2="417.00" y2="170.80" stroke="#231f20" stroke-width="1.4"/>
<text x="413.24" y="179.70" font-size="8.0" fill="#231f20" stroke="#231f20" stroke-width="0.08" textLength="7.12" lengthAdjust="spacingAndGlyphs">18</text>
<line x1="435.00" y1="167.50" x2="435.00" y2="170.80" stroke="#231f20" stroke-width="1.4"/>
<text x="431.24" y="179.70" font-size="8.0" fill="#231f20" stroke="#231f20" stroke-width="0.08" textLength="7.12" lengthAdjust="spacingAndGlyphs">21</text>
<line x1="453.00" y1="167.50" x2="453.00" y2="170.80" stroke="#231f20" stroke-width="1.4"/>
<text x="449.24" y="179.70" font-size="8.0" fill="#231f20" stroke="#231f20" stroke-width="0.08" textLength="7.12" lengthAdjust="spacingAndGlyphs">24</text>
<line x1="471.00" y1="167.50" x2="471.00" y2="170.80" stroke="#231f20" stroke-width="1.4"/>
<text x="467.24" y="179.70" font-size="8.0" fill="#231f20" stroke="#231f20" stroke-width="0.08" textLength="7.12" lengthAdjust="spacingAndGlyphs">27</text>
<line x1="489.00" y1="167.50" x2="489.00" y2="170.80" stroke="#231f20" stroke-width="1.4"/>
<text x="485.24" y="179.70" font-size="8.0" fill="#231f20" stroke="#231f20" stroke-width="0.08" textLength="7.12" lengthAdjust="spacingAndGlyphs">30</text>
<line x1="507.00" y1="167.50" x2="507.00" y2="170.80" stroke="#231f20" stroke-width="1.4"/>
<text x="503.24" y="179.70" font-size="8.0" fill="#231f20" stroke="#231f20" stroke-width="0.08" textLength="7.12" lengthAdjust="spacingAndGlyphs">33</text>
<text x="387.05" y="189.70" font-size="9.0" fill="#231f20" stroke="#231f20" stroke-width="0.04" textLength="41.50" lengthAdjust="spacingAndGlyphs">Time, months</text>
<g transform="translate(286.90,112.50) rotate(-90)">
<text x="-42.25" y="0.00" font-size="9.0" fill="#231f20" stroke="#231f20" stroke-width="0.04" textLength="84.50" lengthAdjust="spacingAndGlyphs">Progression-free survival, %</text>
</g>
<text x="278.10" y="198.75" font-size="5.7" fill="#000" stroke="#000" stroke-width="0.03" textLength="25.30" lengthAdjust="spacingAndGlyphs">No. at risk</text>
<text x="304.01" y="207.75" font-size="6.3" fill="#c41f4b" stroke="#c41f4b" stroke-width="0.12" textLength="9.77" lengthAdjust="spacingAndGlyphs">210</text>
<text x="322.01" y="207.75" font-size="6.3" fill="#c41f4b" stroke="#c41f4b" stroke-width="0.12" textLength="9.77" lengthAdjust="spacingAndGlyphs">167</text>
<text x="340.01" y="207.75" font-size="6.3" fill="#c41f4b" stroke="#c41f4b" stroke-width="0.12" textLength="9.77" lengthAdjust="spacingAndGlyphs">134</text>
<text x="358.01" y="207.75" font-size="6.3" fill="#c41f4b" stroke="#c41f4b" stroke-width="0.12" textLength="9.77" lengthAdjust="spacingAndGlyphs">106</text>
<text x="377.64" y="207.75" font-size="6.3" fill="#c41f4b" stroke="#c41f4b" stroke-width="0.12" textLength="6.52" lengthAdjust="spacingAndGlyphs">85</text>
<text x="395.64" y="207.75" font-size="6.3" fill="#c41f4b" stroke="#c41f4b" stroke-width="0.12" textLength="6.52" lengthAdjust="spacingAndGlyphs">71</text>
<text x="413.64" y="207.75" font-size="6.3" fill="#c41f4b" stroke="#c41f4b" stroke-width="0.12" textLength="6.52" lengthAdjust="spacingAndGlyphs">61</text>
<text x="431.64" y="207.75" font-size="6.3" fill="#c41f4b" stroke="#c41f4b" stroke-width="0.12" textLength="6.52" lengthAdjust="spacingAndGlyphs">51</text>
<text x="449.64" y="207.75" font-size="6.3" fill="#c41f4b" stroke="#c41f4b" stroke-width="0.12" textLength="6.52" lengthAdjust="spacingAndGlyphs">39</text>
<text x="467.64" y="207.75" font-size="6.3" fill="#c41f4b" stroke="#c41f4b" stroke-width="0.12" textLength="6.52" lengthAdjust="spacingAndGlyphs">19</text>
<text x="487.27" y="207.75" font-size="6.3" fill="#c41f4b" stroke="#c41f4b" stroke-width="0.12" textLength="3.26" lengthAdjust="spacingAndGlyphs">0</text>
<text x="505.27" y="207.75" font-size="6.3" fill="#c41f4b" stroke="#c41f4b" stroke-width="0.12" textLength="3.26" lengthAdjust="spacingAndGlyphs">0</text>
<text x="305.64" y="216.00" font-size="6.3" fill="#44689f" stroke="#44689f" stroke-width="0.12" textLength="6.52" lengthAdjust="spacingAndGlyphs">58</text>
<text x="323.64" y="216.00" font-size="6.3" fill="#44689f" stroke="#44689f" stroke-width="0.12" textLength="6.52" lengthAdjust="spacingAndGlyphs">55</text>
<text x="341.64" y="216.00" font-size="6.3" fill="#44689f" stroke="#44689f" stroke-width="0.12" textLength="6.52" lengthAdjust="spacingAndGlyphs">50</text>
<text x="359.64" y="216.00" font-size="6.3" fill="#44689f" stroke="#44689f" stroke-width="0.12" textLength="6.52" lengthAdjust="spacingAndGlyphs">44</text>
<text x="377.64" y="216.00" font-size="6.3" fill="#44689f" stroke="#44689f" stroke-width="0.12" textLength="6.52" lengthAdjust="spacingAndGlyphs">39</text>
<text x="395.64" y="216.00" font-size="6.3" fill="#44689f" stroke="#44689f" stroke-width="0.12" textLength="6.52" lengthAdjust="spacingAndGlyphs">38</text>
<text x="413.64" y="216.00" font-size="6.3" fill="#44689f" stroke="#44689f" stroke-width="0.12" textLength="6.52" lengthAdjust="spacingAndGlyphs">30</text>
<text x="431.64" y="216.00" font-size="6.3" fill="#44689f" stroke="#44689f" stroke-width="0.12" textLength="6.52" lengthAdjust="spacingAndGlyphs">27</text>
<text x="449.64" y="216.00" font-size="6.3" fill="#44689f" stroke="#44689f" stroke-width="0.12" textLength="6.52" lengthAdjust="spacingAndGlyphs">24</text>
<text x="467.86" y="216.00" font-size="6.3" fill="#44689f" stroke="#44689f" stroke-width="0.12" textLength="6.08" lengthAdjust="spacingAndGlyphs">11</text>
<text x="487.27" y="216.00" font-size="6.3" fill="#44689f" stroke="#44689f" stroke-width="0.12" textLength="3.26" lengthAdjust="spacingAndGlyphs">0</text>
<text x="505.27" y="216.00" font-size="6.3" fill="#44689f" stroke="#44689f" stroke-width="0.12" textLength="3.26" lengthAdjust="spacingAndGlyphs">0</text>
<text x="305.64" y="223.90" font-size="6.3" fill="#63408a" stroke="#63408a" stroke-width="0.12" textLength="6.52" lengthAdjust="spacingAndGlyphs">93</text>
<text x="323.64" y="223.90" font-size="6.3" fill="#63408a" stroke="#63408a" stroke-width="0.12" textLength="6.52" lengthAdjust="spacingAndGlyphs">90</text>
<text x="341.64" y="223.90" font-size="6.3" fill="#63408a" stroke="#63408a" stroke-width="0.12" textLength="6.52" lengthAdjust="spacingAndGlyphs">72</text>
<text x="359.64" y="223.90" font-size="6.3" fill="#63408a" stroke="#63408a" stroke-width="0.12" textLength="6.52" lengthAdjust="spacingAndGlyphs">52</text>
<text x="377.64" y="223.90" font-size="6.3" fill="#63408a" stroke="#63408a" stroke-width="0.12" textLength="6.52" lengthAdjust="spacingAndGlyphs">42</text>
<text x="395.64" y="223.90" font-size="6.3" fill="#63408a" stroke="#63408a" stroke-width="0.12" textLength="6.52" lengthAdjust="spacingAndGlyphs">31</text>
<text x="413.64" y="223.90" font-size="6.3" fill="#63408a" stroke="#63408a" stroke-width="0.12" textLength="6.52" lengthAdjust="spacingAndGlyphs">29</text>
<text x="431.64" y="223.90" font-size="6.3" fill="#63408a" stroke="#63408a" stroke-width="0.12" textLength="6.52" lengthAdjust="spacingAndGlyphs">23</text>
<text x="449.64" y="223.90" font-size="6.3" fill="#63408a" stroke="#63408a" stroke-width="0.12" textLength="6.52" lengthAdjust="spacingAndGlyphs">14</text>
<text x="469.27" y="223.90" font-size="6.3" fill="#63408a" stroke="#63408a" stroke-width="0.12" textLength="3.26" lengthAdjust="spacingAndGlyphs">8</text>
<text x="487.27" y="223.90" font-size="6.3" fill="#63408a" stroke="#63408a" stroke-width="0.12" textLength="3.26" lengthAdjust="spacingAndGlyphs">0</text>
<text x="505.27" y="223.90" font-size="6.3" fill="#63408a" stroke="#63408a" stroke-width="0.12" textLength="3.26" lengthAdjust="spacingAndGlyphs">0</text>
<path d="M308.80,57.50H340.60V59.26H357.40V65.97H375.40V75.98H405.40V79.50H407.80V83.90H410.80V88.08H425.20V93.80H439.60V101.94H474.40V110.41H489.40" fill="none" stroke="#2f5189" stroke-width="1.15"/>
<path d="M323.20,57.50v-4.5M338.80,57.50v-4.5M340.00,57.50v-4.5M341.80,59.26v-4.5M343.00,59.26v-4.5M355.60,59.26v-4.5M356.50,59.26v-4.5M357.40,65.97v-4.5M358.60,65.97v-4.5M364.60,65.97v-4.5M397.60,75.98v-4.5M401.80,75.98v-4.5M403.00,75.98v-4.5M412.00,88.08v-4.5M431.80,93.80v-4.5M454.60,101.94v-4.5M455.80,101.94v-4.5M457.00,101.94v-4.5M458.20,101.94v-4.5M459.40,101.94v-4.5M460.60,101.94v-4.5M462.40,101.94v-4.5M464.20,101.94v-4.5M467.80,101.94v-4.5M472.60,101.94v-4.5M474.40,110.41v-4.5M475.30,110.41v-4.5M476.20,110.41v-4.5M481.90,110.41v-4.5M488.20,110.41v-4.5M489.40,110.41v-4.5" fill="none" stroke="#2f5189" stroke-width="0.9"/>
<path d="M308.80,57.50H313.60V58.16H335.80V59.70H341.20V68.72H344.20V72.90H346.00V75.65H353.50V80.05H358.00V85.00H359.20V90.28H375.40V97.76H381.40V100.95H389.80V110.30H391.90V116.24H402.40V117.23H425.20V120.20H427.60V122.51H441.40V133.07H445.60V135.60H458.20V138.46H470.20V141.87H487.60" fill="none" stroke="#4c2270" stroke-width="1.15"/>
<path d="M326.20,58.16v-4.5M343.60,68.72v-4.5M344.80,72.90v-4.5M346.00,75.65v-4.5M352.00,75.65v-4.5M359.20,90.28v-4.5M376.00,97.76v-4.5M380.80,97.76v-4.5M388.00,100.95v-4.5M396.40,116.24v-4.5M401.80,116.24v-4.5M414.40,117.23v-4.5M419.20,117.23v-4.5M428.20,122.51v-4.5M458.20,138.46v-4.5M458.80,138.46v-4.5M465.40,138.46v-4.5M470.80,141.87v-4.5M472.60,141.87v-4.5M474.40,141.87v-4.5M487.60,141.87v-4.5" fill="none" stroke="#4c2270" stroke-width="0.9"/>
<path d="M308.80,57.50H311.80V59.04H324.40V65.20H326.20V74.66H338.80V79.50H341.20V85.22H357.40V90.50H359.20V96.55H374.20V101.50H376.90V105.90H379.00V107.55H389.50V111.95H391.30V116.24H406.00V118.77H410.20V120.42H425.20V122.95H428.20V124.82H439.60V129.00H443.20V132.85H470.20V135.60H473.80V138.35H489.40" fill="none" stroke="#b8113c" stroke-width="1.3" stroke-dasharray="1.8 1.5"/>
<path d="M310.60,57.50v-4.5M325.00,65.20v-4.5M328.00,74.66v-4.5M331.00,74.66v-4.5M332.80,74.66v-4.5M337.90,74.66v-4.5M338.80,79.50v-4.5M339.70,79.50v-4.5M342.40,85.22v-4.5M343.60,85.22v-4.5M346.00,85.22v-4.5M348.40,85.22v-4.5M351.40,85.22v-4.5M352.60,85.22v-4.5M354.10,85.22v-4.5M365.80,96.55v-4.5M380.20,107.55v-4.5M382.00,107.55v-4.5M387.40,107.55v-4.5M395.20,116.24v-4.5M396.40,116.24v-4.5M397.60,116.24v-4.5M401.80,116.24v-4.5M402.40,116.24v-4.5M411.40,120.42v-4.5M413.20,120.42v-4.5M414.40,120.42v-4.5M419.20,120.42v-4.5M419.80,120.42v-4.5M427.60,122.95v-4.5M431.80,124.82v-4.5M444.40,132.85v-4.5M446.80,132.85v-4.5M456.40,132.85v-4.5M457.60,132.85v-4.5M458.80,132.85v-4.5M460.00,132.85v-4.5M461.20,132.85v-4.5M462.40,132.85v-4.5M463.60,132.85v-4.5M464.80,132.85v-4.5M466.00,132.85v-4.5M467.80,132.85v-4.5M475.00,138.35v-4.5M476.80,138.35v-4.5M477.40,138.35v-4.5M481.60,138.35v-4.5M483.40,138.35v-4.5M487.30,138.35v-4.5M488.80,138.35v-4.5" fill="none" stroke="#b8113c" stroke-width="0.9"/>
<text x="7.30" y="256.40" font-size="12.2" fill="#000" stroke="#000" stroke-width="0.4" font-weight="bold" textLength="8.81" lengthAdjust="spacingAndGlyphs">C</text>
<text x="142.74" y="261.00" font-size="5.6" fill="#000" stroke="#000" stroke-width="0.08" font-weight="bold" textLength="19.92" lengthAdjust="spacingAndGlyphs">Events,</text>
<text x="145.86" y="267.20" font-size="5.6" fill="#000" stroke="#000" stroke-width="0.08" font-weight="bold" textLength="13.69" lengthAdjust="spacingAndGlyphs">n (%)</text>
<text x="175.51" y="261.00" font-size="5.6" fill="#000" stroke="#000" stroke-width="0.08" font-weight="bold" textLength="35.79" lengthAdjust="spacingAndGlyphs">PFS,* median</text>
<text x="176.60" y="267.20" font-size="5.6" fill="#000" stroke="#000" stroke-width="0.08" font-weight="bold" textLength="33.60" lengthAdjust="spacingAndGlyphs">(95% CI), mo</text>
<text x="219.66" y="261.00" font-size="5.6" fill="#000" stroke="#000" stroke-width="0.08" font-weight="bold" textLength="32.68" lengthAdjust="spacingAndGlyphs">24-mo PFS,*</text>
<text x="232.21" y="267.20" font-size="5.6" fill="#000" stroke="#000" stroke-width="0.08" font-weight="bold" textLength="4.98" lengthAdjust="spacingAndGlyphs">%</text>
<line x1="108.10" y1="271.80" x2="251.60" y2="271.80" stroke="#231f20" stroke-width="1.4"/>
<text x="108.26" y="278.10" font-size="6.3" fill="#c41f4b" stroke="#c41f4b" stroke-width="0.12" textLength="21.99" lengthAdjust="spacingAndGlyphs">Cohort 1</text>
<text x="141.98" y="278.10" font-size="6.3" fill="#c41f4b" stroke="#c41f4b" stroke-width="0.12" textLength="21.43" lengthAdjust="spacingAndGlyphs">35 (50.7)</text>
<text x="174.33" y="278.10" font-size="6.3" fill="#c41f4b" stroke="#c41f4b" stroke-width="0.12" textLength="38.15" lengthAdjust="spacingAndGlyphs">16.4 (11.3-27.6)</text>
<text x="230.82" y="278.10" font-size="6.3" fill="#c41f4b" stroke="#c41f4b" stroke-width="0.12" textLength="11.16" lengthAdjust="spacingAndGlyphs">41.6</text>
<text x="121.97" y="285.60" font-size="6.3" fill="#44689f" stroke="#44689f" stroke-width="0.12" textLength="8.28" lengthAdjust="spacingAndGlyphs">CR</text>
<text x="143.47" y="285.60" font-size="6.3" fill="#44689f" stroke="#44689f" stroke-width="0.12" textLength="18.45" lengthAdjust="spacingAndGlyphs">7 (38.9)</text>
<text x="175.48" y="285.60" font-size="6.3" fill="#44689f" stroke="#44689f" stroke-width="0.12" textLength="35.83" lengthAdjust="spacingAndGlyphs">27.6 (16.3-NR)</text>
<text x="230.82" y="285.60" font-size="6.3" fill="#44689f" stroke="#44689f" stroke-width="0.12" textLength="11.16" lengthAdjust="spacingAndGlyphs">60.0</text>
<text x="122.29" y="292.75" font-size="6.3" fill="#63408a" stroke="#63408a" stroke-width="0.12" textLength="7.96" lengthAdjust="spacingAndGlyphs">PR</text>
<text x="141.98" y="292.75" font-size="6.3" fill="#63408a" stroke="#63408a" stroke-width="0.12" textLength="21.43" lengthAdjust="spacingAndGlyphs">16 (45.7)</text>
<text x="175.48" y="292.75" font-size="6.3" fill="#63408a" stroke="#63408a" stroke-width="0.12" textLength="35.83" lengthAdjust="spacingAndGlyphs">22.2 (13.6-NR)</text>
<text x="230.82" y="292.75" font-size="6.3" fill="#63408a" stroke="#63408a" stroke-width="0.12" textLength="11.16" lengthAdjust="spacingAndGlyphs">47.0</text>
<line x1="50.10" y1="406.70" x2="50.10" y2="290.50" stroke="#231f20" stroke-width="1.6"/>
<line x1="47.00" y1="403.75" x2="250.80" y2="403.75" stroke="#231f20" stroke-width="1.6"/>
<line x1="46.80" y1="403.50" x2="50.00" y2="403.50" stroke="#231f20" stroke-width="1.3"/>
<text x="40.94" y="405.75" font-size="8.0" fill="#231f20" stroke="#231f20" stroke-width="0.08" textLength="3.56" lengthAdjust="spacingAndGlyphs">0</text>
<line x1="46.80" y1="392.50" x2="50.00" y2="392.50" stroke="#231f20" stroke-width="1.3"/>
<text x="37.38" y="394.75" font-size="8.0" fill="#231f20" stroke="#231f20" stroke-width="0.08" textLength="7.12" lengthAdjust="spacingAndGlyphs">10</text>
<line x1="46.80" y1="381.50" x2="50.00" y2="381.50" stroke="#231f20" stroke-width="1.3"/>
<text x="37.38" y="383.75" font-size="8.0" fill="#231f20" stroke="#231f20" stroke-width="0.08" textLength="7.12" lengthAdjust="spacingAndGlyphs">20</text>
<line x1="46.80" y1="370.50" x2="50.00" y2="370.50" stroke="#231f20" stroke-width="1.3"/>
<text x="37.38" y="372.75" font-size="8.0" fill="#231f20" stroke="#231f20" stroke-width="0.08" textLength="7.12" lengthAdjust="spacingAndGlyphs">30</text>
<line x1="46.80" y1="359.50" x2="50.00" y2="359.50" stroke="#231f20" stroke-width="1.3"/>
<text x="37.38" y="361.75" font-size="8.0" fill="#231f20" stroke="#231f20" stroke-width="0.08" textLength="7.12" lengthAdjust="spacingAndGlyphs">40</text>
<line x1="46.80" y1="348.50" x2="50.00" y2="348.50" stroke="#231f20" stroke-width="1.3"/>
<text x="37.38" y="350.75" font-size="8.0" fill="#231f20" stroke="#231f20" stroke-width="0.08" textLength="7.12" lengthAdjust="spacingAndGlyphs">50</text>
<line x1="46.80" y1="337.50" x2="50.00" y2="337.50" stroke="#231f20" stroke-width="1.3"/>
<text x="37.38" y="339.75" font-size="8.0" fill="#231f20" stroke="#231f20" stroke-width="0.08" textLength="7.12" lengthAdjust="spacingAndGlyphs">60</text>
<line x1="46.80" y1="326.50" x2="50.00" y2="326.50" stroke="#231f20" stroke-width="1.3"/>
<text x="37.38" y="328.75" font-size="8.0" fill="#231f20" stroke="#231f20" stroke-width="0.08" textLength="7.12" lengthAdjust="spacingAndGlyphs">70</text>
<line x1="46.80" y1="315.50" x2="50.00" y2="315.50" stroke="#231f20" stroke-width="1.3"/>
<text x="37.38" y="317.75" font-size="8.0" fill="#231f20" stroke="#231f20" stroke-width="0.08" textLength="7.12" lengthAdjust="spacingAndGlyphs">80</text>
<line x1="46.80" y1="304.50" x2="50.00" y2="304.50" stroke="#231f20" stroke-width="1.3"/>
<text x="37.38" y="306.75" font-size="8.0" fill="#231f20" stroke="#231f20" stroke-width="0.08" textLength="7.12" lengthAdjust="spacingAndGlyphs">90</text>
<line x1="46.80" y1="293.50" x2="50.00" y2="293.50" stroke="#231f20" stroke-width="1.3"/>
<text x="33.82" y="295.75" font-size="8.0" fill="#231f20" stroke="#231f20" stroke-width="0.08" textLength="10.68" lengthAdjust="spacingAndGlyphs">100</text>
<line x1="50.20" y1="403.50" x2="50.20" y2="406.80" stroke="#231f20" stroke-width="1.4"/>
<text x="48.22" y="415.70" font-size="8.0" fill="#231f20" stroke="#231f20" stroke-width="0.08" textLength="3.56" lengthAdjust="spacingAndGlyphs">0</text>
<line x1="68.20" y1="403.50" x2="68.20" y2="406.80" stroke="#231f20" stroke-width="1.4"/>
<text x="66.22" y="415.70" font-size="8.0" fill="#231f20" stroke="#231f20" stroke-width="0.08" textLength="3.56" lengthAdjust="spacingAndGlyphs">3</text>
<line x1="86.20" y1="403.50" x2="86.20" y2="406.80" stroke="#231f20" stroke-width="1.4"/>
<text x="84.22" y="415.70" font-size="8.0" fill="#231f20" stroke="#231f20" stroke-width="0.08" textLength="3.56" lengthAdjust="spacingAndGlyphs">6</text>
<line x1="104.20" y1="403.50" x2="104.20" y2="406.80" stroke="#231f20" stroke-width="1.4"/>
<text x="102.22" y="415.70" font-size="8.0" fill="#231f20" stroke="#231f20" stroke-width="0.08" textLength="3.56" lengthAdjust="spacingAndGlyphs">9</text>
<line x1="122.20" y1="403.50" x2="122.20" y2="406.80" stroke="#231f20" stroke-width="1.4"/>
<text x="118.44" y="415.70" font-size="8.0" fill="#231f20" stroke="#231f20" stroke-width="0.08" textLength="7.12" lengthAdjust="spacingAndGlyphs">12</text>
<line x1="140.20" y1="403.50" x2="140.20" y2="406.80" stroke="#231f20" stroke-width="1.4"/>
<text x="136.44" y="415.70" font-size="8.0" fill="#231f20" stroke="#231f20" stroke-width="0.08" textLength="7.12" lengthAdjust="spacingAndGlyphs">15</text>
<line x1="158.20" y1="403.50" x2="158.20" y2="406.80" stroke="#231f20" stroke-width="1.4"/>
<text x="154.44" y="415.70" font-size="8.0" fill="#231f20" stroke="#231f20" stroke-width="0.08" textLength="7.12" lengthAdjust="spacingAndGlyphs">18</text>
<line x1="176.20" y1="403.50" x2="176.20" y2="406.80" stroke="#231f20" stroke-width="1.4"/>
<text x="172.44" y="415.70" font-size="8.0" fill="#231f20" stroke="#231f20" stroke-width="0.08" textLength="7.12" lengthAdjust="spacingAndGlyphs">21</text>
<line x1="194.20" y1="403.50" x2="194.20" y2="406.80" stroke="#231f20" stroke-width="1.4"/>
<text x="190.44" y="415.70" font-size="8.0" fill="#231f20" stroke="#231f20" stroke-width="0.08" textLength="7.12" lengthAdjust="spacingAndGlyphs">24</text>
<line x1="212.20" y1="403.50" x2="212.20" y2="406.80" stroke="#231f20" stroke-width="1.4"/>
<text x="208.44" y="415.70" font-size="8.0" fill="#231f20" stroke="#231f20" stroke-width="0.08" textLength="7.12" lengthAdjust="spacingAndGlyphs">27</text>
<line x1="230.20" y1="403.50" x2="230.20" y2="406.80" stroke="#231f20" stroke-width="1.4"/>
<text x="226.44" y="415.70" font-size="8.0" fill="#231f20" stroke="#231f20" stroke-width="0.08" textLength="7.12" lengthAdjust="spacingAndGlyphs">30</text>
<line x1="248.20" y1="403.50" x2="248.20" y2="406.80" stroke="#231f20" stroke-width="1.4"/>
<text x="244.44" y="415.70" font-size="8.0" fill="#231f20" stroke="#231f20" stroke-width="0.08" textLength="7.12" lengthAdjust="spacingAndGlyphs">33</text>
<text x="128.25" y="425.70" font-size="9.0" fill="#231f20" stroke="#231f20" stroke-width="0.04" textLength="41.50" lengthAdjust="spacingAndGlyphs">Time, months</text>
<g transform="translate(34.00,348.50) rotate(-90)">
<text x="-42.25" y="0.00" font-size="9.0" fill="#231f20" stroke="#231f20" stroke-width="0.04" textLength="84.50" lengthAdjust="spacingAndGlyphs">Progression-free survival, %</text>
</g>
<text x="19.40" y="434.75" font-size="5.7" fill="#000" stroke="#000" stroke-width="0.03" textLength="25.30" lengthAdjust="spacingAndGlyphs">No. at risk</text>
<text x="46.84" y="443.50" font-size="6.3" fill="#c41f4b" stroke="#c41f4b" stroke-width="0.12" textLength="6.52" lengthAdjust="spacingAndGlyphs">69</text>
<text x="64.84" y="443.50" font-size="6.3" fill="#c41f4b" stroke="#c41f4b" stroke-width="0.12" textLength="6.52" lengthAdjust="spacingAndGlyphs">61</text>
<text x="82.84" y="443.50" font-size="6.3" fill="#c41f4b" stroke="#c41f4b" stroke-width="0.12" textLength="6.52" lengthAdjust="spacingAndGlyphs">45</text>
<text x="100.84" y="443.50" font-size="6.3" fill="#c41f4b" stroke="#c41f4b" stroke-width="0.12" textLength="6.52" lengthAdjust="spacingAndGlyphs">41</text>
<text x="118.84" y="443.50" font-size="6.3" fill="#c41f4b" stroke="#c41f4b" stroke-width="0.12" textLength="6.52" lengthAdjust="spacingAndGlyphs">33</text>
<text x="136.84" y="443.50" font-size="6.3" fill="#c41f4b" stroke="#c41f4b" stroke-width="0.12" textLength="6.52" lengthAdjust="spacingAndGlyphs">28</text>
<text x="154.84" y="443.50" font-size="6.3" fill="#c41f4b" stroke="#c41f4b" stroke-width="0.12" textLength="6.52" lengthAdjust="spacingAndGlyphs">23</text>
<text x="172.84" y="443.50" font-size="6.3" fill="#c41f4b" stroke="#c41f4b" stroke-width="0.12" textLength="6.52" lengthAdjust="spacingAndGlyphs">21</text>
<text x="190.84" y="443.50" font-size="6.3" fill="#c41f4b" stroke="#c41f4b" stroke-width="0.12" textLength="6.52" lengthAdjust="spacingAndGlyphs">17</text>
<text x="210.47" y="443.50" font-size="6.3" fill="#c41f4b" stroke="#c41f4b" stroke-width="0.12" textLength="3.26" lengthAdjust="spacingAndGlyphs">9</text>
<text x="228.47" y="443.50" font-size="6.3" fill="#c41f4b" stroke="#c41f4b" stroke-width="0.12" textLength="3.26" lengthAdjust="spacingAndGlyphs">0</text>
<text x="246.47" y="443.50" font-size="6.3" fill="#c41f4b" stroke="#c41f4b" stroke-width="0.12" textLength="3.26" lengthAdjust="spacingAndGlyphs">0</text>
<text x="46.84" y="451.50" font-size="6.3" fill="#44689f" stroke="#44689f" stroke-width="0.12" textLength="6.52" lengthAdjust="spacingAndGlyphs">18</text>
<text x="64.84" y="451.50" font-size="6.3" fill="#44689f" stroke="#44689f" stroke-width="0.12" textLength="6.52" lengthAdjust="spacingAndGlyphs">17</text>
<text x="82.84" y="451.50" font-size="6.3" fill="#44689f" stroke="#44689f" stroke-width="0.12" textLength="6.52" lengthAdjust="spacingAndGlyphs">14</text>
<text x="100.84" y="451.50" font-size="6.3" fill="#44689f" stroke="#44689f" stroke-width="0.12" textLength="6.52" lengthAdjust="spacingAndGlyphs">13</text>
<text x="118.84" y="451.50" font-size="6.3" fill="#44689f" stroke="#44689f" stroke-width="0.12" textLength="6.52" lengthAdjust="spacingAndGlyphs">13</text>
<text x="136.84" y="451.50" font-size="6.3" fill="#44689f" stroke="#44689f" stroke-width="0.12" textLength="6.52" lengthAdjust="spacingAndGlyphs">13</text>
<text x="156.47" y="451.50" font-size="6.3" fill="#44689f" stroke="#44689f" stroke-width="0.12" textLength="3.26" lengthAdjust="spacingAndGlyphs">9</text>
<text x="174.47" y="451.50" font-size="6.3" fill="#44689f" stroke="#44689f" stroke-width="0.12" textLength="3.26" lengthAdjust="spacingAndGlyphs">9</text>
<text x="192.47" y="451.50" font-size="6.3" fill="#44689f" stroke="#44689f" stroke-width="0.12" textLength="3.26" lengthAdjust="spacingAndGlyphs">9</text>
<text x="210.47" y="451.50" font-size="6.3" fill="#44689f" stroke="#44689f" stroke-width="0.12" textLength="3.26" lengthAdjust="spacingAndGlyphs">4</text>
<text x="228.47" y="451.50" font-size="6.3" fill="#44689f" stroke="#44689f" stroke-width="0.12" textLength="3.26" lengthAdjust="spacingAndGlyphs">0</text>
<text x="246.47" y="451.50" font-size="6.3" fill="#44689f" stroke="#44689f" stroke-width="0.12" textLength="3.26" lengthAdjust="spacingAndGlyphs">0</text>
<text x="46.84" y="459.75" font-size="6.3" fill="#63408a" stroke="#63408a" stroke-width="0.12" textLength="6.52" lengthAdjust="spacingAndGlyphs">35</text>
<text x="64.84" y="459.75" font-size="6.3" fill="#63408a" stroke="#63408a" stroke-width="0.12" textLength="6.52" lengthAdjust="spacingAndGlyphs">34</text>
<text x="82.84" y="459.75" font-size="6.3" fill="#63408a" stroke="#63408a" stroke-width="0.12" textLength="6.52" lengthAdjust="spacingAndGlyphs">26</text>
<text x="100.84" y="459.75" font-size="6.3" fill="#63408a" stroke="#63408a" stroke-width="0.12" textLength="6.52" lengthAdjust="spacingAndGlyphs">24</text>
<text x="118.84" y="459.75" font-size="6.3" fill="#63408a" stroke="#63408a" stroke-width="0.12" textLength="6.52" lengthAdjust="spacingAndGlyphs">20</text>
<text x="136.84" y="459.75" font-size="6.3" fill="#63408a" stroke="#63408a" stroke-width="0.12" textLength="6.52" lengthAdjust="spacingAndGlyphs">15</text>
<text x="154.84" y="459.75" font-size="6.3" fill="#63408a" stroke="#63408a" stroke-width="0.12" textLength="6.52" lengthAdjust="spacingAndGlyphs">14</text>
<text x="172.84" y="459.75" font-size="6.3" fill="#63408a" stroke="#63408a" stroke-width="0.12" textLength="6.52" lengthAdjust="spacingAndGlyphs">12</text>
<text x="192.47" y="459.75" font-size="6.3" fill="#63408a" stroke="#63408a" stroke-width="0.12" textLength="3.26" lengthAdjust="spacingAndGlyphs">8</text>
<text x="210.47" y="459.75" font-size="6.3" fill="#63408a" stroke="#63408a" stroke-width="0.12" textLength="3.26" lengthAdjust="spacingAndGlyphs">5</text>
<text x="228.47" y="459.75" font-size="6.3" fill="#63408a" stroke="#63408a" stroke-width="0.12" textLength="3.26" lengthAdjust="spacingAndGlyphs">0</text>
<text x="246.47" y="459.75" font-size="6.3" fill="#63408a" stroke="#63408a" stroke-width="0.12" textLength="3.26" lengthAdjust="spacingAndGlyphs">0</text>
<path d="M50.00,293.50H81.80V300.65H99.80V307.80H147.80V315.50H149.00V326.50H150.80V337.17H215.60V353.56H223.40" fill="none" stroke="#2f5189" stroke-width="1.15"/>
<path d="M80.60,293.50v-4.5M81.80,300.65v-4.5M155.00,337.17v-4.5M159.80,337.17v-4.5M169.40,337.17v-4.5M199.40,337.17v-4.5M216.80,353.56v-4.5M218.00,353.56v-4.5M223.10,353.56v-4.5" fill="none" stroke="#2f5189" stroke-width="0.9"/>
<path d="M50.00,293.50H74.90V296.47H82.70V304.50H84.20V313.74H116.60V320.56H121.40V324.96H131.00V333.10H133.10V340.58H182.60V351.36H198.80V358.40H228.80" fill="none" stroke="#4c2270" stroke-width="1.15"/>
<path d="M67.40,293.50v-4.5M86.60,313.74v-4.5M93.80,313.74v-4.5M116.60,320.56v-4.5M155.00,340.58v-4.5M159.80,340.58v-4.5M168.80,340.58v-4.5M185.00,351.36v-4.5M202.40,358.40v-4.5M206.60,358.40v-4.5M213.20,358.40v-4.5M228.20,358.40v-4.5" fill="none" stroke="#4c2270" stroke-width="0.9"/>
<path d="M50.00,293.50H51.80V294.71H65.30V297.35H67.10V300.10H68.30V301.75H77.60V303.29H82.70V317.37H98.60V321.99H115.70V333.87H121.10V336.18H131.60V343.99H147.50V352.68H182.60V357.63H199.40V360.60H215.60V368.41H229.40" fill="none" stroke="#b8113c" stroke-width="1.3" stroke-dasharray="1.8 1.5"/>
<path d="M51.80,294.71v-4.5M79.40,303.29v-4.5M80.60,303.29v-4.5M86.60,317.37v-4.5M93.80,317.37v-4.5M155.60,352.68v-4.5M159.80,352.68v-4.5M169.40,352.68v-4.5M183.20,357.63v-4.5M185.60,357.63v-4.5M199.40,360.60v-4.5M201.80,360.60v-4.5M207.20,360.60v-4.5M209.00,360.60v-4.5M213.20,360.60v-4.5M216.20,368.41v-4.5M218.00,368.41v-4.5M218.60,368.41v-4.5M223.40,368.41v-4.5M224.00,368.41v-4.5M228.80,368.41v-4.5" fill="none" stroke="#b8113c" stroke-width="0.9"/>
<text x="268.20" y="256.40" font-size="12.2" fill="#000" stroke="#000" stroke-width="0.4" font-weight="bold" textLength="8.81" lengthAdjust="spacingAndGlyphs">D</text>
<text x="403.64" y="261.25" font-size="5.6" fill="#000" stroke="#000" stroke-width="0.08" font-weight="bold" textLength="19.92" lengthAdjust="spacingAndGlyphs">Events,</text>
<text x="406.76" y="267.50" font-size="5.6" fill="#000" stroke="#000" stroke-width="0.08" font-weight="bold" textLength="13.69" lengthAdjust="spacingAndGlyphs">n (%)</text>
<text x="434.81" y="261.25" font-size="5.6" fill="#000" stroke="#000" stroke-width="0.08" font-weight="bold" textLength="35.79" lengthAdjust="spacingAndGlyphs">PFS,* median</text>
<text x="435.90" y="267.50" font-size="5.6" fill="#000" stroke="#000" stroke-width="0.08" font-weight="bold" textLength="33.60" lengthAdjust="spacingAndGlyphs">(95% CI), mo</text>
<text x="478.66" y="261.25" font-size="5.6" fill="#000" stroke="#000" stroke-width="0.08" font-weight="bold" textLength="32.68" lengthAdjust="spacingAndGlyphs">24-mo PFS,*</text>
<text x="491.21" y="267.50" font-size="5.6" fill="#000" stroke="#000" stroke-width="0.08" font-weight="bold" textLength="4.98" lengthAdjust="spacingAndGlyphs">%</text>
<line x1="367.75" y1="271.80" x2="510.00" y2="271.80" stroke="#231f20" stroke-width="1.4"/>
<text x="367.76" y="278.50" font-size="6.3" fill="#c41f4b" stroke="#c41f4b" stroke-width="0.12" textLength="21.99" lengthAdjust="spacingAndGlyphs">Cohort 2</text>
<text x="402.88" y="278.50" font-size="6.3" fill="#c41f4b" stroke="#c41f4b" stroke-width="0.12" textLength="21.43" lengthAdjust="spacingAndGlyphs">51 (63.0)</text>
<text x="435.13" y="278.50" font-size="6.3" fill="#c41f4b" stroke="#c41f4b" stroke-width="0.12" textLength="35.13" lengthAdjust="spacingAndGlyphs">11.1 (7.6-13.8)</text>
<text x="489.82" y="278.50" font-size="6.3" fill="#c41f4b" stroke="#c41f4b" stroke-width="0.12" textLength="11.16" lengthAdjust="spacingAndGlyphs">18.2</text>
<text x="381.47" y="286.50" font-size="6.3" fill="#44689f" stroke="#44689f" stroke-width="0.12" textLength="8.28" lengthAdjust="spacingAndGlyphs">CR</text>
<text x="404.37" y="286.50" font-size="6.3" fill="#44689f" stroke="#44689f" stroke-width="0.12" textLength="18.45" lengthAdjust="spacingAndGlyphs">8 (38.1)</text>
<text x="434.99" y="286.50" font-size="6.3" fill="#44689f" stroke="#44689f" stroke-width="0.12" textLength="35.43" lengthAdjust="spacingAndGlyphs">21.9 (11.1-NR)</text>
<text x="489.82" y="286.50" font-size="6.3" fill="#44689f" stroke="#44689f" stroke-width="0.12" textLength="11.16" lengthAdjust="spacingAndGlyphs">44.2</text>
<text x="381.79" y="294.50" font-size="6.3" fill="#63408a" stroke="#63408a" stroke-width="0.12" textLength="7.96" lengthAdjust="spacingAndGlyphs">PR</text>
<text x="402.88" y="294.50" font-size="6.3" fill="#63408a" stroke="#63408a" stroke-width="0.12" textLength="21.43" lengthAdjust="spacingAndGlyphs">21 (63.6)</text>
<text x="434.93" y="294.50" font-size="6.3" fill="#63408a" stroke="#63408a" stroke-width="0.12" textLength="35.54" lengthAdjust="spacingAndGlyphs">13.4 (7.6-13.8)</text>
<text x="489.82" y="294.50" font-size="6.3" fill="#63408a" stroke="#63408a" stroke-width="0.12" textLength="11.16" lengthAdjust="spacingAndGlyphs">10.4</text>
<line x1="308.90" y1="406.70" x2="308.90" y2="290.50" stroke="#231f20" stroke-width="1.6"/>
<line x1="305.80" y1="403.75" x2="509.60" y2="403.75" stroke="#231f20" stroke-width="1.6"/>
<line x1="305.60" y1="403.50" x2="308.80" y2="403.50" stroke="#231f20" stroke-width="1.3"/>
<text x="298.94" y="405.75" font-size="8.0" fill="#231f20" stroke="#231f20" stroke-width="0.08" textLength="3.56" lengthAdjust="spacingAndGlyphs">0</text>
<line x1="305.60" y1="392.50" x2="308.80" y2="392.50" stroke="#231f20" stroke-width="1.3"/>
<text x="295.38" y="394.75" font-size="8.0" fill="#231f20" stroke="#231f20" stroke-width="0.08" textLength="7.12" lengthAdjust="spacingAndGlyphs">10</text>
<line x1="305.60" y1="381.50" x2="308.80" y2="381.50" stroke="#231f20" stroke-width="1.3"/>
<text x="295.38" y="383.75" font-size="8.0" fill="#231f20" stroke="#231f20" stroke-width="0.08" textLength="7.12" lengthAdjust="spacingAndGlyphs">20</text>
<line x1="305.60" y1="370.50" x2="308.80" y2="370.50" stroke="#231f20" stroke-width="1.3"/>
<text x="295.38" y="372.75" font-size="8.0" fill="#231f20" stroke="#231f20" stroke-width="0.08" textLength="7.12" lengthAdjust="spacingAndGlyphs">30</text>
<line x1="305.60" y1="359.50" x2="308.80" y2="359.50" stroke="#231f20" stroke-width="1.3"/>
<text x="295.38" y="361.75" font-size="8.0" fill="#231f20" stroke="#231f20" stroke-width="0.08" textLength="7.12" lengthAdjust="spacingAndGlyphs">40</text>
<line x1="305.60" y1="348.50" x2="308.80" y2="348.50" stroke="#231f20" stroke-width="1.3"/>
<text x="295.38" y="350.75" font-size="8.0" fill="#231f20" stroke="#231f20" stroke-width="0.08" textLength="7.12" lengthAdjust="spacingAndGlyphs">50</text>
<line x1="305.60" y1="337.50" x2="308.80" y2="337.50" stroke="#231f20" stroke-width="1.3"/>
<text x="295.38" y="339.75" font-size="8.0" fill="#231f20" stroke="#231f20" stroke-width="0.08" textLength="7.12" lengthAdjust="spacingAndGlyphs">60</text>
<line x1="305.60" y1="326.50" x2="308.80" y2="326.50" stroke="#231f20" stroke-width="1.3"/>
<text x="295.38" y="328.75" font-size="8.0" fill="#231f20" stroke="#231f20" stroke-width="0.08" textLength="7.12" lengthAdjust="spacingAndGlyphs">70</text>
<line x1="305.60" y1="315.50" x2="308.80" y2="315.50" stroke="#231f20" stroke-width="1.3"/>
<text x="295.38" y="317.75" font-size="8.0" fill="#231f20" stroke="#231f20" stroke-width="0.08" textLength="7.12" lengthAdjust="spacingAndGlyphs">80</text>
<line x1="305.60" y1="304.50" x2="308.80" y2="304.50" stroke="#231f20" stroke-width="1.3"/>
<text x="295.38" y="306.75" font-size="8.0" fill="#231f20" stroke="#231f20" stroke-width="0.08" textLength="7.12" lengthAdjust="spacingAndGlyphs">90</text>
<line x1="305.60" y1="293.50" x2="308.80" y2="293.50" stroke="#231f20" stroke-width="1.3"/>
<text x="291.82" y="295.75" font-size="8.0" fill="#231f20" stroke="#231f20" stroke-width="0.08" textLength="10.68" lengthAdjust="spacingAndGlyphs">100</text>
<line x1="309.00" y1="403.50" x2="309.00" y2="406.80" stroke="#231f20" stroke-width="1.4"/>
<text x="307.02" y="415.70" font-size="8.0" fill="#231f20" stroke="#231f20" stroke-width="0.08" textLength="3.56" lengthAdjust="spacingAndGlyphs">0</text>
<line x1="327.00" y1="403.50" x2="327.00" y2="406.80" stroke="#231f20" stroke-width="1.4"/>
<text x="325.02" y="415.70" font-size="8.0" fill="#231f20" stroke="#231f20" stroke-width="0.08" textLength="3.56" lengthAdjust="spacingAndGlyphs">3</text>
<line x1="345.00" y1="403.50" x2="345.00" y2="406.80" stroke="#231f20" stroke-width="1.4"/>
<text x="343.02" y="415.70" font-size="8.0" fill="#231f20" stroke="#231f20" stroke-width="0.08" textLength="3.56" lengthAdjust="spacingAndGlyphs">6</text>
<line x1="363.00" y1="403.50" x2="363.00" y2="406.80" stroke="#231f20" stroke-width="1.4"/>
<text x="361.02" y="415.70" font-size="8.0" fill="#231f20" stroke="#231f20" stroke-width="0.08" textLength="3.56" lengthAdjust="spacingAndGlyphs">9</text>
<line x1="381.00" y1="403.50" x2="381.00" y2="406.80" stroke="#231f20" stroke-width="1.4"/>
<text x="377.24" y="415.70" font-size="8.0" fill="#231f20" stroke="#231f20" stroke-width="0.08" textLength="7.12" lengthAdjust="spacingAndGlyphs">12</text>
<line x1="399.00" y1="403.50" x2="399.00" y2="406.80" stroke="#231f20" stroke-width="1.4"/>
<text x="395.24" y="415.70" font-size="8.0" fill="#231f20" stroke="#231f20" stroke-width="0.08" textLength="7.12" lengthAdjust="spacingAndGlyphs">15</text>
<line x1="417.00" y1="403.50" x2="417.00" y2="406.80" stroke="#231f20" stroke-width="1.4"/>
<text x="413.24" y="415.70" font-size="8.0" fill="#231f20" stroke="#231f20" stroke-width="0.08" textLength="7.12" lengthAdjust="spacingAndGlyphs">18</text>
<line x1="435.00" y1="403.50" x2="435.00" y2="406.80" stroke="#231f20" stroke-width="1.4"/>
<text x="431.24" y="415.70" font-size="8.0" fill="#231f20" stroke="#231f20" stroke-width="0.08" textLength="7.12" lengthAdjust="spacingAndGlyphs">21</text>
<line x1="453.00" y1="403.50" x2="453.00" y2="406.80" stroke="#231f20" stroke-width="1.4"/>
<text x="449.24" y="415.70" font-size="8.0" fill="#231f20" stroke="#231f20" stroke-width="0.08" textLength="7.12" lengthAdjust="spacingAndGlyphs">24</text>
<line x1="471.00" y1="403.50" x2="471.00" y2="406.80" stroke="#231f20" stroke-width="1.4"/>
<text x="467.24" y="415.70" font-size="8.0" fill="#231f20" stroke="#231f20" stroke-width="0.08" textLength="7.12" lengthAdjust="spacingAndGlyphs">27</text>
<line x1="489.00" y1="403.50" x2="489.00" y2="406.80" stroke="#231f20" stroke-width="1.4"/>
<text x="485.24" y="415.70" font-size="8.0" fill="#231f20" stroke="#231f20" stroke-width="0.08" textLength="7.12" lengthAdjust="spacingAndGlyphs">30</text>
<line x1="507.00" y1="403.50" x2="507.00" y2="406.80" stroke="#231f20" stroke-width="1.4"/>
<text x="503.24" y="415.70" font-size="8.0" fill="#231f20" stroke="#231f20" stroke-width="0.08" textLength="7.12" lengthAdjust="spacingAndGlyphs">33</text>
<text x="387.05" y="425.70" font-size="9.0" fill="#231f20" stroke="#231f20" stroke-width="0.04" textLength="41.50" lengthAdjust="spacingAndGlyphs">Time, months</text>
<g transform="translate(286.90,348.50) rotate(-90)">
<text x="-42.25" y="0.00" font-size="9.0" fill="#231f20" stroke="#231f20" stroke-width="0.04" textLength="84.50" lengthAdjust="spacingAndGlyphs">Progression-free survival, %</text>
</g>
<text x="278.10" y="434.40" font-size="5.7" fill="#000" stroke="#000" stroke-width="0.03" textLength="25.30" lengthAdjust="spacingAndGlyphs">No. at risk</text>
<text x="305.64" y="443.10" font-size="6.3" fill="#c41f4b" stroke="#c41f4b" stroke-width="0.12" textLength="6.52" lengthAdjust="spacingAndGlyphs">81</text>
<text x="323.64" y="443.10" font-size="6.3" fill="#c41f4b" stroke="#c41f4b" stroke-width="0.12" textLength="6.52" lengthAdjust="spacingAndGlyphs">56</text>
<text x="341.64" y="443.10" font-size="6.3" fill="#c41f4b" stroke="#c41f4b" stroke-width="0.12" textLength="6.52" lengthAdjust="spacingAndGlyphs">44</text>
<text x="359.64" y="443.10" font-size="6.3" fill="#c41f4b" stroke="#c41f4b" stroke-width="0.12" textLength="6.52" lengthAdjust="spacingAndGlyphs">29</text>
<text x="377.64" y="443.10" font-size="6.3" fill="#c41f4b" stroke="#c41f4b" stroke-width="0.12" textLength="6.52" lengthAdjust="spacingAndGlyphs">24</text>
<text x="395.64" y="443.10" font-size="6.3" fill="#c41f4b" stroke="#c41f4b" stroke-width="0.12" textLength="6.52" lengthAdjust="spacingAndGlyphs">17</text>
<text x="413.64" y="443.10" font-size="6.3" fill="#c41f4b" stroke="#c41f4b" stroke-width="0.12" textLength="6.52" lengthAdjust="spacingAndGlyphs">15</text>
<text x="431.64" y="443.10" font-size="6.3" fill="#c41f4b" stroke="#c41f4b" stroke-width="0.12" textLength="6.52" lengthAdjust="spacingAndGlyphs">13</text>
<text x="451.27" y="443.10" font-size="6.3" fill="#c41f4b" stroke="#c41f4b" stroke-width="0.12" textLength="3.26" lengthAdjust="spacingAndGlyphs">9</text>
<text x="469.27" y="443.10" font-size="6.3" fill="#c41f4b" stroke="#c41f4b" stroke-width="0.12" textLength="3.26" lengthAdjust="spacingAndGlyphs">3</text>
<text x="487.27" y="443.10" font-size="6.3" fill="#c41f4b" stroke="#c41f4b" stroke-width="0.12" textLength="3.26" lengthAdjust="spacingAndGlyphs">0</text>
<text x="505.27" y="443.10" font-size="6.3" fill="#c41f4b" stroke="#c41f4b" stroke-width="0.12" textLength="3.26" lengthAdjust="spacingAndGlyphs">0</text>
<text x="305.64" y="451.25" font-size="6.3" fill="#44689f" stroke="#44689f" stroke-width="0.12" textLength="6.52" lengthAdjust="spacingAndGlyphs">21</text>
<text x="323.64" y="451.25" font-size="6.3" fill="#44689f" stroke="#44689f" stroke-width="0.12" textLength="6.52" lengthAdjust="spacingAndGlyphs">19</text>
<text x="341.64" y="451.25" font-size="6.3" fill="#44689f" stroke="#44689f" stroke-width="0.12" textLength="6.52" lengthAdjust="spacingAndGlyphs">17</text>
<text x="359.64" y="451.25" font-size="6.3" fill="#44689f" stroke="#44689f" stroke-width="0.12" textLength="6.52" lengthAdjust="spacingAndGlyphs">14</text>
<text x="377.86" y="451.25" font-size="6.3" fill="#44689f" stroke="#44689f" stroke-width="0.12" textLength="6.08" lengthAdjust="spacingAndGlyphs">11</text>
<text x="395.86" y="451.25" font-size="6.3" fill="#44689f" stroke="#44689f" stroke-width="0.12" textLength="6.08" lengthAdjust="spacingAndGlyphs">11</text>
<text x="415.27" y="451.25" font-size="6.3" fill="#44689f" stroke="#44689f" stroke-width="0.12" textLength="3.26" lengthAdjust="spacingAndGlyphs">9</text>
<text x="433.27" y="451.25" font-size="6.3" fill="#44689f" stroke="#44689f" stroke-width="0.12" textLength="3.26" lengthAdjust="spacingAndGlyphs">8</text>
<text x="451.27" y="451.25" font-size="6.3" fill="#44689f" stroke="#44689f" stroke-width="0.12" textLength="3.26" lengthAdjust="spacingAndGlyphs">6</text>
<text x="469.27" y="451.25" font-size="6.3" fill="#44689f" stroke="#44689f" stroke-width="0.12" textLength="3.26" lengthAdjust="spacingAndGlyphs">3</text>
<text x="487.27" y="451.25" font-size="6.3" fill="#44689f" stroke="#44689f" stroke-width="0.12" textLength="3.26" lengthAdjust="spacingAndGlyphs">0</text>
<text x="505.27" y="451.25" font-size="6.3" fill="#44689f" stroke="#44689f" stroke-width="0.12" textLength="3.26" lengthAdjust="spacingAndGlyphs">0</text>
<text x="305.64" y="459.75" font-size="6.3" fill="#63408a" stroke="#63408a" stroke-width="0.12" textLength="6.52" lengthAdjust="spacingAndGlyphs">33</text>
<text x="323.64" y="459.75" font-size="6.3" fill="#63408a" stroke="#63408a" stroke-width="0.12" textLength="6.52" lengthAdjust="spacingAndGlyphs">31</text>
<text x="341.64" y="459.75" font-size="6.3" fill="#63408a" stroke="#63408a" stroke-width="0.12" textLength="6.52" lengthAdjust="spacingAndGlyphs">23</text>
<text x="359.64" y="459.75" font-size="6.3" fill="#63408a" stroke="#63408a" stroke-width="0.12" textLength="6.52" lengthAdjust="spacingAndGlyphs">12</text>
<text x="377.64" y="459.75" font-size="6.3" fill="#63408a" stroke="#63408a" stroke-width="0.12" textLength="6.52" lengthAdjust="spacingAndGlyphs">10</text>
<text x="397.27" y="459.75" font-size="6.3" fill="#63408a" stroke="#63408a" stroke-width="0.12" textLength="3.26" lengthAdjust="spacingAndGlyphs">5</text>
<text x="415.27" y="459.75" font-size="6.3" fill="#63408a" stroke="#63408a" stroke-width="0.12" textLength="3.26" lengthAdjust="spacingAndGlyphs">5</text>
<text x="433.27" y="459.75" font-size="6.3" fill="#63408a" stroke="#63408a" stroke-width="0.12" textLength="3.26" lengthAdjust="spacingAndGlyphs">4</text>
<text x="451.27" y="459.75" font-size="6.3" fill="#63408a" stroke="#63408a" stroke-width="0.12" textLength="3.26" lengthAdjust="spacingAndGlyphs">2</text>
<text x="469.27" y="459.75" font-size="6.3" fill="#63408a" stroke="#63408a" stroke-width="0.12" textLength="3.26" lengthAdjust="spacingAndGlyphs">0</text>
<text x="487.27" y="459.75" font-size="6.3" fill="#63408a" stroke="#63408a" stroke-width="0.12" textLength="3.26" lengthAdjust="spacingAndGlyphs">0</text>
<text x="505.27" y="459.75" font-size="6.3" fill="#63408a" stroke="#63408a" stroke-width="0.12" textLength="3.26" lengthAdjust="spacingAndGlyphs">0</text>
<path d="M308.80,293.50H356.80V300.21H375.40V321.88H410.80V330.24H426.40V338.49H440.20V354.88H490.00" fill="none" stroke="#2f5189" stroke-width="1.15"/>
<path d="M322.00,293.50v-4.5M341.80,293.50v-4.5M343.00,293.50v-4.5M355.60,293.50v-4.5M401.80,321.88v-4.5M456.40,354.88v-4.5M460.60,354.88v-4.5M467.50,354.88v-4.5M472.60,354.88v-4.5M473.80,354.88v-4.5M489.40,354.88v-4.5" fill="none" stroke="#2f5189" stroke-width="0.9"/>
<path d="M308.80,293.50H339.40V296.80H341.20V311.21H343.60V314.73H352.30V319.35H355.30V326.94H356.80V335.30H359.20V340.58H376.00V345.97H388.60V358.07H391.60V374.35H424.60V380.29H440.80V386.23H445.60V391.84H459.40" fill="none" stroke="#4c2270" stroke-width="1.15"/>
<path d="M325.60,293.50v-4.5M341.80,311.21v-4.5M343.60,314.73v-4.5M350.20,314.73v-4.5M358.00,335.30v-4.5M359.20,340.58v-4.5M380.20,345.97v-4.5M458.80,391.84v-4.5" fill="none" stroke="#4c2270" stroke-width="0.9"/>
<path d="M308.80,293.50H311.80V294.27H325.30V306.70H326.50V319.57H341.20V327.27H343.00V330.35H353.20V332.55H356.20V336.40H358.60V340.80H359.80V345.20H374.80V352.90H388.90V357.30H391.00V362.80H392.50V367.64H410.50V369.95H425.20V374.46H440.20V379.30H443.80V381.28H446.80V383.15H490.00" fill="none" stroke="#b8113c" stroke-width="1.3" stroke-dasharray="1.8 1.5"/>
<path d="M310.60,293.50v-4.5M323.50,294.27v-4.5M342.40,327.27v-4.5M344.80,330.35v-4.5M351.40,330.35v-4.5M352.30,330.35v-4.5M355.60,332.55v-4.5M380.80,352.90v-4.5M402.10,367.64v-4.5M456.40,383.15v-4.5M457.60,383.15v-4.5M458.80,383.15v-4.5M460.60,383.15v-4.5M467.50,383.15v-4.5M472.60,383.15v-4.5M473.80,383.15v-4.5M489.40,383.15v-4.5" fill="none" stroke="#b8113c" stroke-width="0.9"/>
<text x="7.95" y="483.90" font-size="12.2" fill="#000" stroke="#000" stroke-width="0.4" font-weight="bold" textLength="8.14" lengthAdjust="spacingAndGlyphs">E</text>
<text x="138.14" y="488.00" font-size="5.6" fill="#000" stroke="#000" stroke-width="0.08" font-weight="bold" textLength="19.92" lengthAdjust="spacingAndGlyphs">Events,</text>
<text x="141.26" y="495.00" font-size="5.6" fill="#000" stroke="#000" stroke-width="0.08" font-weight="bold" textLength="13.69" lengthAdjust="spacingAndGlyphs">n (%)</text>
<text x="172.51" y="488.00" font-size="5.6" fill="#000" stroke="#000" stroke-width="0.08" font-weight="bold" textLength="35.79" lengthAdjust="spacingAndGlyphs">PFS,* median</text>
<text x="173.60" y="495.00" font-size="5.6" fill="#000" stroke="#000" stroke-width="0.08" font-weight="bold" textLength="33.60" lengthAdjust="spacingAndGlyphs">(95% CI), mo</text>
<text x="216.66" y="488.00" font-size="5.6" fill="#000" stroke="#000" stroke-width="0.08" font-weight="bold" textLength="32.68" lengthAdjust="spacingAndGlyphs">24-mo PFS,*</text>
<text x="229.21" y="495.00" font-size="5.6" fill="#000" stroke="#000" stroke-width="0.08" font-weight="bold" textLength="4.98" lengthAdjust="spacingAndGlyphs">%</text>
<line x1="105.00" y1="498.80" x2="248.50" y2="498.80" stroke="#231f20" stroke-width="1.4"/>
<text x="106.11" y="505.70" font-size="6.3" fill="#c41f4b" stroke="#c41f4b" stroke-width="0.12" textLength="21.99" lengthAdjust="spacingAndGlyphs">Cohort 3</text>
<text x="137.38" y="505.70" font-size="6.3" fill="#c41f4b" stroke="#c41f4b" stroke-width="0.12" textLength="21.43" lengthAdjust="spacingAndGlyphs">34 (56.7)</text>
<text x="171.13" y="505.70" font-size="6.3" fill="#c41f4b" stroke="#c41f4b" stroke-width="0.12" textLength="38.55" lengthAdjust="spacingAndGlyphs">19.4 (10.8-22.1)</text>
<text x="227.82" y="505.70" font-size="6.3" fill="#c41f4b" stroke="#c41f4b" stroke-width="0.12" textLength="11.16" lengthAdjust="spacingAndGlyphs">35.7</text>
<text x="119.82" y="513.50" font-size="6.3" fill="#44689f" stroke="#44689f" stroke-width="0.12" textLength="8.28" lengthAdjust="spacingAndGlyphs">CR</text>
<text x="138.87" y="513.50" font-size="6.3" fill="#44689f" stroke="#44689f" stroke-width="0.12" textLength="18.45" lengthAdjust="spacingAndGlyphs">4 (21.1)</text>
<text x="173.84" y="513.50" font-size="6.3" fill="#44689f" stroke="#44689f" stroke-width="0.12" textLength="33.11" lengthAdjust="spacingAndGlyphs">NR (21.7-NR)</text>
<text x="227.82" y="513.50" font-size="6.3" fill="#44689f" stroke="#44689f" stroke-width="0.12" textLength="11.16" lengthAdjust="spacingAndGlyphs">73.0</text>
<text x="120.14" y="521.50" font-size="6.3" fill="#63408a" stroke="#63408a" stroke-width="0.12" textLength="7.96" lengthAdjust="spacingAndGlyphs">PR</text>
<text x="137.38" y="521.50" font-size="6.3" fill="#63408a" stroke="#63408a" stroke-width="0.12" textLength="21.43" lengthAdjust="spacingAndGlyphs">16 (64.0)</text>
<text x="172.63" y="521.50" font-size="6.3" fill="#63408a" stroke="#63408a" stroke-width="0.12" textLength="35.54" lengthAdjust="spacingAndGlyphs">19.4 (8.5-22.1)</text>
<text x="227.82" y="521.50" font-size="6.3" fill="#63408a" stroke="#63408a" stroke-width="0.12" textLength="11.16" lengthAdjust="spacingAndGlyphs">27.6</text>
<line x1="50.10" y1="635.90" x2="50.10" y2="519.70" stroke="#231f20" stroke-width="1.6"/>
<line x1="47.00" y1="632.95" x2="250.80" y2="632.95" stroke="#231f20" stroke-width="1.6"/>
<line x1="46.80" y1="632.70" x2="50.00" y2="632.70" stroke="#231f20" stroke-width="1.3"/>
<text x="40.24" y="634.95" font-size="8.0" fill="#231f20" stroke="#231f20" stroke-width="0.08" textLength="3.56" lengthAdjust="spacingAndGlyphs">0</text>
<line x1="46.80" y1="621.70" x2="50.00" y2="621.70" stroke="#231f20" stroke-width="1.3"/>
<text x="36.68" y="623.95" font-size="8.0" fill="#231f20" stroke="#231f20" stroke-width="0.08" textLength="7.12" lengthAdjust="spacingAndGlyphs">10</text>
<line x1="46.80" y1="610.70" x2="50.00" y2="610.70" stroke="#231f20" stroke-width="1.3"/>
<text x="36.68" y="612.95" font-size="8.0" fill="#231f20" stroke="#231f20" stroke-width="0.08" textLength="7.12" lengthAdjust="spacingAndGlyphs">20</text>
<line x1="46.80" y1="599.70" x2="50.00" y2="599.70" stroke="#231f20" stroke-width="1.3"/>
<text x="36.68" y="601.95" font-size="8.0" fill="#231f20" stroke="#231f20" stroke-width="0.08" textLength="7.12" lengthAdjust="spacingAndGlyphs">30</text>
<line x1="46.80" y1="588.70" x2="50.00" y2="588.70" stroke="#231f20" stroke-width="1.3"/>
<text x="36.68" y="590.95" font-size="8.0" fill="#231f20" stroke="#231f20" stroke-width="0.08" textLength="7.12" lengthAdjust="spacingAndGlyphs">40</text>
<line x1="46.80" y1="577.70" x2="50.00" y2="577.70" stroke="#231f20" stroke-width="1.3"/>
<text x="36.68" y="579.95" font-size="8.0" fill="#231f20" stroke="#231f20" stroke-width="0.08" textLength="7.12" lengthAdjust="spacingAndGlyphs">50</text>
<line x1="46.80" y1="566.70" x2="50.00" y2="566.70" stroke="#231f20" stroke-width="1.3"/>
<text x="36.68" y="568.95" font-size="8.0" fill="#231f20" stroke="#231f20" stroke-width="0.08" textLength="7.12" lengthAdjust="spacingAndGlyphs">60</text>
<line x1="46.80" y1="555.70" x2="50.00" y2="555.70" stroke="#231f20" stroke-width="1.3"/>
<text x="36.68" y="557.95" font-size="8.0" fill="#231f20" stroke="#231f20" stroke-width="0.08" textLength="7.12" lengthAdjust="spacingAndGlyphs">70</text>
<line x1="46.80" y1="544.70" x2="50.00" y2="544.70" stroke="#231f20" stroke-width="1.3"/>
<text x="36.68" y="546.95" font-size="8.0" fill="#231f20" stroke="#231f20" stroke-width="0.08" textLength="7.12" lengthAdjust="spacingAndGlyphs">80</text>
<line x1="46.80" y1="533.70" x2="50.00" y2="533.70" stroke="#231f20" stroke-width="1.3"/>
<text x="36.68" y="535.95" font-size="8.0" fill="#231f20" stroke="#231f20" stroke-width="0.08" textLength="7.12" lengthAdjust="spacingAndGlyphs">90</text>
<line x1="46.80" y1="522.70" x2="50.00" y2="522.70" stroke="#231f20" stroke-width="1.3"/>
<text x="33.12" y="524.95" font-size="8.0" fill="#231f20" stroke="#231f20" stroke-width="0.08" textLength="10.68" lengthAdjust="spacingAndGlyphs">100</text>
<line x1="50.20" y1="632.70" x2="50.20" y2="636.00" stroke="#231f20" stroke-width="1.4"/>
<text x="48.22" y="644.90" font-size="8.0" fill="#231f20" stroke="#231f20" stroke-width="0.08" textLength="3.56" lengthAdjust="spacingAndGlyphs">0</text>
<line x1="68.20" y1="632.70" x2="68.20" y2="636.00" stroke="#231f20" stroke-width="1.4"/>
<text x="66.22" y="644.90" font-size="8.0" fill="#231f20" stroke="#231f20" stroke-width="0.08" textLength="3.56" lengthAdjust="spacingAndGlyphs">3</text>
<line x1="86.20" y1="632.70" x2="86.20" y2="636.00" stroke="#231f20" stroke-width="1.4"/>
<text x="84.22" y="644.90" font-size="8.0" fill="#231f20" stroke="#231f20" stroke-width="0.08" textLength="3.56" lengthAdjust="spacingAndGlyphs">6</text>
<line x1="104.20" y1="632.70" x2="104.20" y2="636.00" stroke="#231f20" stroke-width="1.4"/>
<text x="102.22" y="644.90" font-size="8.0" fill="#231f20" stroke="#231f20" stroke-width="0.08" textLength="3.56" lengthAdjust="spacingAndGlyphs">9</text>
<line x1="122.20" y1="632.70" x2="122.20" y2="636.00" stroke="#231f20" stroke-width="1.4"/>
<text x="118.44" y="644.90" font-size="8.0" fill="#231f20" stroke="#231f20" stroke-width="0.08" textLength="7.12" lengthAdjust="spacingAndGlyphs">12</text>
<line x1="140.20" y1="632.70" x2="140.20" y2="636.00" stroke="#231f20" stroke-width="1.4"/>
<text x="136.44" y="644.90" font-size="8.0" fill="#231f20" stroke="#231f20" stroke-width="0.08" textLength="7.12" lengthAdjust="spacingAndGlyphs">15</text>
<line x1="158.20" y1="632.70" x2="158.20" y2="636.00" stroke="#231f20" stroke-width="1.4"/>
<text x="154.44" y="644.90" font-size="8.0" fill="#231f20" stroke="#231f20" stroke-width="0.08" textLength="7.12" lengthAdjust="spacingAndGlyphs">18</text>
<line x1="176.20" y1="632.70" x2="176.20" y2="636.00" stroke="#231f20" stroke-width="1.4"/>
<text x="172.44" y="644.90" font-size="8.0" fill="#231f20" stroke="#231f20" stroke-width="0.08" textLength="7.12" lengthAdjust="spacingAndGlyphs">21</text>
<line x1="194.20" y1="632.70" x2="194.20" y2="636.00" stroke="#231f20" stroke-width="1.4"/>
<text x="190.44" y="644.90" font-size="8.0" fill="#231f20" stroke="#231f20" stroke-width="0.08" textLength="7.12" lengthAdjust="spacingAndGlyphs">24</text>
<line x1="212.20" y1="632.70" x2="212.20" y2="636.00" stroke="#231f20" stroke-width="1.4"/>
<text x="208.44" y="644.90" font-size="8.0" fill="#231f20" stroke="#231f20" stroke-width="0.08" textLength="7.12" lengthAdjust="spacingAndGlyphs">27</text>
<line x1="230.20" y1="632.70" x2="230.20" y2="636.00" stroke="#231f20" stroke-width="1.4"/>
<text x="226.44" y="644.90" font-size="8.0" fill="#231f20" stroke="#231f20" stroke-width="0.08" textLength="7.12" lengthAdjust="spacingAndGlyphs">30</text>
<line x1="248.20" y1="632.70" x2="248.20" y2="636.00" stroke="#231f20" stroke-width="1.4"/>
<text x="244.44" y="644.90" font-size="8.0" fill="#231f20" stroke="#231f20" stroke-width="0.08" textLength="7.12" lengthAdjust="spacingAndGlyphs">33</text>
<text x="124.55" y="655.30" font-size="9.0" fill="#231f20" stroke="#231f20" stroke-width="0.04" textLength="41.50" lengthAdjust="spacingAndGlyphs">Time, months</text>
<g transform="translate(28.20,577.70) rotate(-90)">
<text x="-42.25" y="0.00" font-size="9.0" fill="#231f20" stroke="#231f20" stroke-width="0.04" textLength="84.50" lengthAdjust="spacingAndGlyphs">Progression-free survival, %</text>
</g>
<text x="19.40" y="661.90" font-size="5.7" fill="#000" stroke="#000" stroke-width="0.03" textLength="25.30" lengthAdjust="spacingAndGlyphs">No. at risk</text>
<text x="46.93" y="668.75" font-size="5.7" fill="#c41f4b" stroke="#c41f4b" stroke-width="0.12" textLength="6.34" lengthAdjust="spacingAndGlyphs">60</text>
<text x="64.93" y="668.75" font-size="5.7" fill="#c41f4b" stroke="#c41f4b" stroke-width="0.12" textLength="6.34" lengthAdjust="spacingAndGlyphs">50</text>
<text x="82.93" y="668.75" font-size="5.7" fill="#c41f4b" stroke="#c41f4b" stroke-width="0.12" textLength="6.34" lengthAdjust="spacingAndGlyphs">45</text>
<text x="100.93" y="668.75" font-size="5.7" fill="#c41f4b" stroke="#c41f4b" stroke-width="0.12" textLength="6.34" lengthAdjust="spacingAndGlyphs">36</text>
<text x="118.93" y="668.75" font-size="5.7" fill="#c41f4b" stroke="#c41f4b" stroke-width="0.12" textLength="6.34" lengthAdjust="spacingAndGlyphs">28</text>
<text x="136.93" y="668.75" font-size="5.7" fill="#c41f4b" stroke="#c41f4b" stroke-width="0.12" textLength="6.34" lengthAdjust="spacingAndGlyphs">26</text>
<text x="154.93" y="668.75" font-size="5.7" fill="#c41f4b" stroke="#c41f4b" stroke-width="0.12" textLength="6.34" lengthAdjust="spacingAndGlyphs">23</text>
<text x="172.93" y="668.75" font-size="5.7" fill="#c41f4b" stroke="#c41f4b" stroke-width="0.12" textLength="6.34" lengthAdjust="spacingAndGlyphs">17</text>
<text x="190.93" y="668.75" font-size="5.7" fill="#c41f4b" stroke="#c41f4b" stroke-width="0.12" textLength="6.34" lengthAdjust="spacingAndGlyphs">13</text>
<text x="210.52" y="668.75" font-size="5.7" fill="#c41f4b" stroke="#c41f4b" stroke-width="0.12" textLength="3.17" lengthAdjust="spacingAndGlyphs">7</text>
<text x="228.52" y="668.75" font-size="5.7" fill="#c41f4b" stroke="#c41f4b" stroke-width="0.12" textLength="3.17" lengthAdjust="spacingAndGlyphs">0</text>
<text x="246.52" y="668.75" font-size="5.7" fill="#c41f4b" stroke="#c41f4b" stroke-width="0.12" textLength="3.17" lengthAdjust="spacingAndGlyphs">0</text>
<text x="46.93" y="677.25" font-size="5.7" fill="#44689f" stroke="#44689f" stroke-width="0.12" textLength="6.34" lengthAdjust="spacingAndGlyphs">19</text>
<text x="64.93" y="677.25" font-size="5.7" fill="#44689f" stroke="#44689f" stroke-width="0.12" textLength="6.34" lengthAdjust="spacingAndGlyphs">19</text>
<text x="82.93" y="677.25" font-size="5.7" fill="#44689f" stroke="#44689f" stroke-width="0.12" textLength="6.34" lengthAdjust="spacingAndGlyphs">19</text>
<text x="100.93" y="677.25" font-size="5.7" fill="#44689f" stroke="#44689f" stroke-width="0.12" textLength="6.34" lengthAdjust="spacingAndGlyphs">17</text>
<text x="118.93" y="677.25" font-size="5.7" fill="#44689f" stroke="#44689f" stroke-width="0.12" textLength="6.34" lengthAdjust="spacingAndGlyphs">15</text>
<text x="136.93" y="677.25" font-size="5.7" fill="#44689f" stroke="#44689f" stroke-width="0.12" textLength="6.34" lengthAdjust="spacingAndGlyphs">14</text>
<text x="154.93" y="677.25" font-size="5.7" fill="#44689f" stroke="#44689f" stroke-width="0.12" textLength="6.34" lengthAdjust="spacingAndGlyphs">12</text>
<text x="172.93" y="677.25" font-size="5.7" fill="#44689f" stroke="#44689f" stroke-width="0.12" textLength="6.34" lengthAdjust="spacingAndGlyphs">10</text>
<text x="192.52" y="677.25" font-size="5.7" fill="#44689f" stroke="#44689f" stroke-width="0.12" textLength="3.17" lengthAdjust="spacingAndGlyphs">9</text>
<text x="210.52" y="677.25" font-size="5.7" fill="#44689f" stroke="#44689f" stroke-width="0.12" textLength="3.17" lengthAdjust="spacingAndGlyphs">4</text>
<text x="228.52" y="677.25" font-size="5.7" fill="#44689f" stroke="#44689f" stroke-width="0.12" textLength="3.17" lengthAdjust="spacingAndGlyphs">0</text>
<text x="246.52" y="677.25" font-size="5.7" fill="#44689f" stroke="#44689f" stroke-width="0.12" textLength="3.17" lengthAdjust="spacingAndGlyphs">0</text>
<text x="46.93" y="685.25" font-size="5.7" fill="#63408a" stroke="#63408a" stroke-width="0.12" textLength="6.34" lengthAdjust="spacingAndGlyphs">25</text>
<text x="64.93" y="685.25" font-size="5.7" fill="#63408a" stroke="#63408a" stroke-width="0.12" textLength="6.34" lengthAdjust="spacingAndGlyphs">25</text>
<text x="82.93" y="685.25" font-size="5.7" fill="#63408a" stroke="#63408a" stroke-width="0.12" textLength="6.34" lengthAdjust="spacingAndGlyphs">23</text>
<text x="100.93" y="685.25" font-size="5.7" fill="#63408a" stroke="#63408a" stroke-width="0.12" textLength="6.34" lengthAdjust="spacingAndGlyphs">16</text>
<text x="118.93" y="685.25" font-size="5.7" fill="#63408a" stroke="#63408a" stroke-width="0.12" textLength="6.34" lengthAdjust="spacingAndGlyphs">12</text>
<text x="137.14" y="685.25" font-size="5.7" fill="#63408a" stroke="#63408a" stroke-width="0.12" textLength="5.92" lengthAdjust="spacingAndGlyphs">11</text>
<text x="154.93" y="685.25" font-size="5.7" fill="#63408a" stroke="#63408a" stroke-width="0.12" textLength="6.34" lengthAdjust="spacingAndGlyphs">10</text>
<text x="174.52" y="685.25" font-size="5.7" fill="#63408a" stroke="#63408a" stroke-width="0.12" textLength="3.17" lengthAdjust="spacingAndGlyphs">7</text>
<text x="192.52" y="685.25" font-size="5.7" fill="#63408a" stroke="#63408a" stroke-width="0.12" textLength="3.17" lengthAdjust="spacingAndGlyphs">4</text>
<text x="210.52" y="685.25" font-size="5.7" fill="#63408a" stroke="#63408a" stroke-width="0.12" textLength="3.17" lengthAdjust="spacingAndGlyphs">3</text>
<text x="228.52" y="685.25" font-size="5.7" fill="#63408a" stroke="#63408a" stroke-width="0.12" textLength="3.17" lengthAdjust="spacingAndGlyphs">0</text>
<text x="246.52" y="685.25" font-size="5.7" fill="#63408a" stroke="#63408a" stroke-width="0.12" textLength="3.17" lengthAdjust="spacingAndGlyphs">0</text>
<path d="M50.00,522.70H99.80V528.09H116.60V535.02H165.80V542.94H180.20V552.29H229.40" fill="none" stroke="#2f5189" stroke-width="1.15"/>
<path d="M99.20,522.70v-4.5M105.80,528.09v-4.5M138.20,535.02v-4.5M144.20,535.02v-4.5M153.80,535.02v-4.5M172.40,542.94v-4.5M195.80,552.29v-4.5M200.60,552.29v-4.5M204.80,552.29v-4.5M208.10,552.29v-4.5M216.20,552.29v-4.5M216.50,552.29v-4.5M229.40,552.29v-4.5" fill="none" stroke="#2f5189" stroke-width="0.9"/>
<path d="M50.00,522.70H82.40V530.95H86.60V535.57H98.00V544.70H100.40V554.82H114.80V559.44H117.50V564.39H121.40V570.22H143.00V575.83H165.80V581.88H168.20V588.48H182.60V602.23H211.40V612.46H219.20" fill="none" stroke="#4c2270" stroke-width="1.15"/>
<path d="M92.00,535.57v-4.5M105.50,554.82v-4.5M116.60,559.44v-4.5M129.20,570.22v-4.5M159.80,575.83v-4.5M198.20,602.23v-4.5M214.40,612.46v-4.5M218.60,612.46v-4.5" fill="none" stroke="#4c2270" stroke-width="0.9"/>
<path d="M50.00,522.70H57.80V524.46H65.60V531.50H66.80V538.98H83.00V547.89H98.60V558.56H114.20V565.60H116.60V568.90H121.40V571.32H143.00V573.96H166.10V579.57H168.50V584.30H181.40V589.80H182.60V593.32H211.40V598.71H229.40" fill="none" stroke="#b8113c" stroke-width="1.3" stroke-dasharray="1.8 1.5"/>
<path d="M73.40,538.98v-4.5M80.60,538.98v-4.5M92.00,547.89v-4.5M98.60,558.56v-4.5M105.50,558.56v-4.5M124.40,571.32v-4.5M127.40,571.32v-4.5M133.40,571.32v-4.5M138.20,571.32v-4.5M143.60,573.96v-4.5M146.00,573.96v-4.5M153.20,573.96v-4.5M156.20,573.96v-4.5M159.80,573.96v-4.5M163.40,573.96v-4.5M172.40,584.30v-4.5M195.80,593.32v-4.5M197.00,593.32v-4.5M200.00,593.32v-4.5M204.80,593.32v-4.5M208.40,593.32v-4.5M214.40,598.71v-4.5M216.20,598.71v-4.5M218.60,598.71v-4.5M224.60,598.71v-4.5" fill="none" stroke="#b8113c" stroke-width="0.9"/>
<rect x="0.5" y="0.5" width="519" height="693" fill="none" stroke="#000" stroke-width="1"/>
</svg>
</body></html>
